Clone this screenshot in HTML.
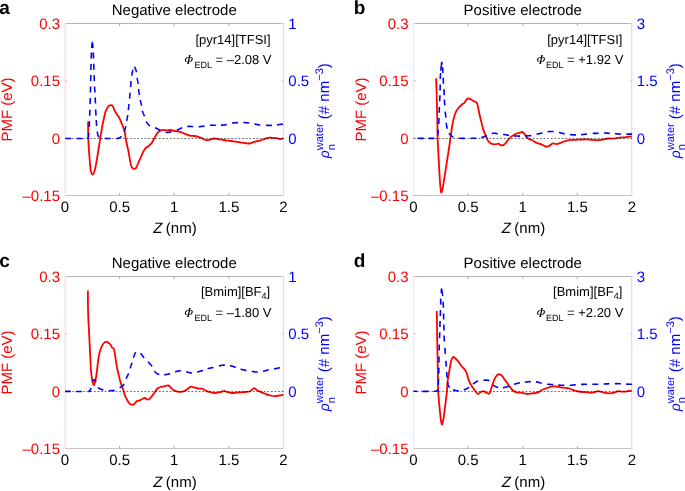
<!DOCTYPE html>
<html><head><meta charset="utf-8"><style>
html,body{margin:0;padding:0;background:#fff;width:685px;height:491px;overflow:hidden}
svg{display:block;will-change:transform}
text{font-family:"Liberation Sans",sans-serif;text-rendering:geometricPrecision}
</style></head><body>
<svg width="685" height="491" viewBox="0 0 685 491">
<rect width="685" height="491" fill="#fff"/>
<text x="174.25" y="14.60" font-size="15" text-anchor="middle" fill="#000">Negative electrode</text>
<text x="-0.70" y="13.60" font-size="19" font-weight="bold" fill="#000">a</text>
<line x1="65.00" y1="23.50" x2="283.50" y2="23.50" stroke="#b4b4b4" stroke-width="1"/>
<line x1="65.00" y1="195.50" x2="283.50" y2="195.50" stroke="#c4c4c4" stroke-width="1"/>
<text x="65.00" y="212.20" font-size="15" text-anchor="middle" fill="#000">0</text>
<line x1="119.62" y1="23.50" x2="119.62" y2="26.00" stroke="#aaa" stroke-width="1"/>
<line x1="119.62" y1="195.50" x2="119.62" y2="193.00" stroke="#aaa" stroke-width="1"/>
<text x="119.62" y="212.20" font-size="15" text-anchor="middle" fill="#000">0.5</text>
<line x1="174.25" y1="23.50" x2="174.25" y2="26.00" stroke="#aaa" stroke-width="1"/>
<line x1="174.25" y1="195.50" x2="174.25" y2="193.00" stroke="#aaa" stroke-width="1"/>
<text x="174.25" y="212.20" font-size="15" text-anchor="middle" fill="#000">1</text>
<line x1="228.88" y1="23.50" x2="228.88" y2="26.00" stroke="#aaa" stroke-width="1"/>
<line x1="228.88" y1="195.50" x2="228.88" y2="193.00" stroke="#aaa" stroke-width="1"/>
<text x="228.88" y="212.20" font-size="15" text-anchor="middle" fill="#000">1.5</text>
<text x="283.50" y="212.20" font-size="15" text-anchor="middle" fill="#000">2</text>
<line x1="65.20" y1="23.00" x2="65.20" y2="195.50" stroke="#ffd0d0" stroke-width="1"/>
<line x1="65.00" y1="23.50" x2="67.50" y2="23.50" stroke="#ffb0b0" stroke-width="1"/>
<text x="60.00" y="29.10" font-size="15" text-anchor="end" fill="#f00">0.3</text>
<line x1="65.00" y1="80.83" x2="67.50" y2="80.83" stroke="#ffb0b0" stroke-width="1"/>
<text x="60.00" y="86.43" font-size="15" text-anchor="end" fill="#f00">0.15</text>
<line x1="65.00" y1="138.17" x2="67.50" y2="138.17" stroke="#ffb0b0" stroke-width="1"/>
<text x="60.00" y="143.77" font-size="15" text-anchor="end" fill="#f00">0</text>
<line x1="65.00" y1="195.50" x2="67.50" y2="195.50" stroke="#ffb0b0" stroke-width="1"/>
<text x="60.00" y="201.10" font-size="15" text-anchor="end" fill="#f00">–0.15</text>
<line x1="283.60" y1="23.00" x2="283.60" y2="196.00" stroke="#d3d3ff" stroke-width="1"/>
<line x1="283.50" y1="23.50" x2="281.00" y2="23.50" stroke="#c8c8ff" stroke-width="1"/>
<text x="288.30" y="29.10" font-size="15" fill="#00f">1</text>
<line x1="283.50" y1="80.83" x2="281.00" y2="80.83" stroke="#c8c8ff" stroke-width="1"/>
<text x="288.30" y="86.43" font-size="15" fill="#00f">0.5</text>
<line x1="283.50" y1="138.17" x2="281.00" y2="138.17" stroke="#c8c8ff" stroke-width="1"/>
<text x="288.30" y="143.77" font-size="15" fill="#00f">0</text>
<text x="173.75" y="232.60" font-size="15" text-anchor="middle" fill="#000"><tspan font-style="italic" dx="1.2">Z</tspan><tspan dx="-0.8"> (nm)</tspan></text>
<text transform="translate(12.40 109.50) rotate(-90)" font-size="15" text-anchor="middle" fill="#f00">PMF (eV)</text>
<text transform="translate(329.40 110.80) rotate(-90)" font-size="15" text-anchor="middle" fill="#00f"><tspan font-style="italic" font-size="14">ρ</tspan><tspan font-size="11" dy="5.2">n</tspan><tspan font-size="11" dx="-6" dy="-11.2">water</tspan><tspan dy="6"> (# nm</tspan><tspan font-size="11" dy="-6">−3</tspan><tspan dy="6">)</tspan></text>
<text x="270.60" y="43.50" font-size="13" text-anchor="end" fill="#000">[pyr14][TFSI]</text>
<g fill="#000" stroke="none"><path fill-rule="evenodd" transform="translate(188.80 59.50) skewX(-14)" d="M-3.85 0 A3.85 2.65 0 1 0 3.85 0 A3.85 2.65 0 1 0 -3.85 0 Z M-2.75 0 A2.75 2.3 0 1 0 2.75 0 A2.75 2.3 0 1 0 -2.75 0 Z"/><path d="M189.10 55.20 L190.40 55.20 L188.70 63.80 L187.40 63.80 Z"/><rect x="188.80" y="55.00" width="2.0" height="0.6"/><rect x="186.90" y="63.40" width="2.2" height="0.6"/></g>
<text x="194.40" y="67.90" font-size="9" fill="#000">EDL</text>
<text x="215.50" y="64.40" font-size="13" fill="#000">= –2.08 V</text>
<path d="M88.10 121.50 C88.12 123.75 88.08 130.58 88.20 135.00 C88.32 139.42 88.55 143.83 88.80 148.00 C89.05 152.17 89.38 156.33 89.70 160.00 C90.02 163.67 90.23 167.55 90.70 170.00 C91.17 172.45 91.82 174.70 92.50 174.70 C93.18 174.70 94.08 172.45 94.80 170.00 C95.52 167.55 96.20 163.33 96.80 160.00 C97.40 156.67 97.82 153.67 98.40 150.00 C98.98 146.33 99.65 142.00 100.30 138.00 C100.95 134.00 101.73 129.08 102.30 126.00 C102.87 122.92 103.20 121.80 103.70 119.50 C104.20 117.20 104.72 114.10 105.30 112.20 C105.88 110.30 106.58 109.17 107.20 108.10 C107.82 107.03 108.37 106.30 109.00 105.80 C109.63 105.30 110.33 104.98 111.00 105.10 C111.67 105.22 112.45 105.72 113.00 106.50 C113.55 107.28 113.62 108.43 114.30 109.80 C114.98 111.17 116.32 113.45 117.10 114.70 C117.88 115.95 118.30 115.98 119.00 117.30 C119.70 118.62 120.70 121.23 121.30 122.60 C121.90 123.97 122.03 124.00 122.60 125.50 C123.17 127.00 124.18 129.40 124.70 131.60 C125.22 133.80 125.28 136.33 125.70 138.70 C126.12 141.07 126.73 143.67 127.20 145.80 C127.67 147.93 128.10 149.47 128.50 151.50 C128.90 153.53 129.23 155.92 129.60 158.00 C129.97 160.08 130.30 162.42 130.70 164.00 C131.10 165.58 131.50 166.67 132.00 167.50 C132.50 168.33 133.20 168.78 133.70 169.00 C134.20 169.22 134.57 169.05 135.00 168.80 C135.43 168.55 135.67 168.65 136.30 167.50 C136.93 166.35 137.95 163.85 138.80 161.90 C139.65 159.95 140.37 158.00 141.40 155.80 C142.43 153.60 143.82 150.32 145.00 148.70 C146.18 147.08 147.40 147.03 148.50 146.10 C149.60 145.17 150.73 144.20 151.60 143.10 C152.47 142.00 153.13 140.53 153.70 139.50 C154.27 138.47 154.42 137.95 155.00 136.90 C155.58 135.85 156.47 134.17 157.20 133.20 C157.93 132.23 158.43 131.67 159.40 131.10 C160.37 130.53 161.78 129.93 163.00 129.80 C164.22 129.67 165.42 130.27 166.70 130.30 C167.98 130.33 169.25 129.85 170.70 130.00 C172.15 130.15 173.82 130.90 175.40 131.20 C176.98 131.50 178.62 131.37 180.20 131.80 C181.78 132.23 183.32 133.15 184.90 133.80 C186.48 134.45 188.12 135.33 189.70 135.70 C191.28 136.07 192.63 135.68 194.40 136.00 C196.17 136.32 198.88 137.13 200.30 137.60 C201.72 138.07 201.85 138.37 202.90 138.80 C203.95 139.23 205.37 140.08 206.60 140.20 C207.83 140.32 209.02 139.78 210.30 139.50 C211.58 139.22 212.97 138.57 214.30 138.50 C215.63 138.43 217.02 138.90 218.30 139.10 C219.58 139.30 220.40 139.43 222.00 139.70 C223.60 139.97 225.95 140.43 227.90 140.70 C229.85 140.97 231.87 141.05 233.70 141.30 C235.53 141.55 237.23 141.95 238.90 142.20 C240.57 142.45 242.17 142.58 243.70 142.80 C245.23 143.02 246.77 143.50 248.10 143.50 C249.43 143.50 250.48 143.10 251.70 142.80 C252.92 142.50 254.05 142.07 255.40 141.70 C256.75 141.33 258.33 141.03 259.80 140.60 C261.27 140.17 262.85 139.57 264.20 139.10 C265.55 138.63 266.55 138.02 267.90 137.80 C269.25 137.58 270.83 137.73 272.30 137.80 C273.77 137.87 275.37 137.98 276.70 138.20 C278.03 138.42 279.20 139.05 280.30 139.10 C281.40 139.15 282.80 138.60 283.30 138.50" fill="none" stroke="#f00" stroke-width="1.8" stroke-linejoin="round"/>
<line x1="65.00" y1="138.50" x2="283.50" y2="138.50" stroke="#000" stroke-width="0.58" stroke-dasharray="1.75 1.864"/>
<path d="M65.33 138.50 L65.49 138.50 L66.08 138.50 L66.75 138.50 L67.50 138.51 L68.33 138.51 L69.22 138.52 L70.16 138.52 L71.15 138.53 L71.33 138.53 M76.63 138.55 L77.53 138.55 L78.59 138.55 L79.63 138.55 L80.63 138.55 L81.59 138.55 L82.50 138.55 L82.63 138.54 M88.22 138.42 L88.25 138.41 L88.27 138.40 L88.27 138.39 L88.25 138.37 L88.22 138.35 L88.18 138.32 L88.13 138.29 L88.08 138.25 L88.04 138.21 L87.99 138.16 L87.96 138.10 L87.94 138.04 L87.94 137.97 L87.96 137.89 L88.00 137.80 L88.05 137.70 L88.10 137.60 L88.15 137.49 L88.19 137.37 L88.23 137.25 L88.27 137.12 L88.31 136.98 L88.34 136.84 L88.37 136.70 L88.39 136.55 L88.42 136.39 L88.44 136.23 L88.47 136.07 L88.49 135.90 L88.51 135.72 L88.53 135.54 L88.55 135.36 L88.57 135.18 L88.59 134.99 L88.61 134.80 L88.63 134.60 L88.65 134.40 L88.68 134.20 L88.70 134.00 L88.72 133.79 L88.75 133.58 L88.77 133.37 L88.80 133.15 L88.82 132.93 L88.84 132.70 M89.25 127.12 L89.25 127.10 L89.26 126.78 L89.28 126.46 L89.29 126.14 L89.30 125.81 L89.31 125.48 L89.33 125.15 L89.34 124.81 L89.35 124.47 L89.36 124.12 L89.37 123.78 L89.39 123.43 L89.40 123.09 L89.41 122.74 L89.42 122.39 L89.43 122.05 L89.44 121.70 L89.45 121.36 L89.46 121.13 M89.66 115.80 L89.67 115.62 L89.68 115.29 L89.69 114.96 L89.71 114.63 L89.72 114.28 L89.73 113.93 L89.74 113.56 L89.76 113.19 L89.77 112.81 L89.79 112.41 L89.80 112.00 L89.81 111.58 L89.83 111.15 L89.85 110.71 L89.86 110.27 L89.88 109.81 L89.88 109.81 M90.07 104.12 L90.08 103.84 L90.10 103.30 L90.11 102.76 L90.13 102.22 L90.15 101.67 L90.17 101.12 L90.18 100.56 L90.20 100.00 L90.22 99.43 L90.23 98.86 L90.25 98.27 L90.25 98.12 M90.41 92.46 L90.42 92.05 L90.44 91.40 L90.46 90.76 L90.47 90.11 L90.49 89.47 L90.51 88.82 L90.52 88.18 L90.54 87.53 L90.55 86.90 L90.57 86.47 M90.68 81.07 L90.69 80.59 L90.70 79.96 L90.72 79.33 L90.73 78.70 L90.74 78.07 L90.75 77.44 L90.76 76.81 L90.77 76.18 L90.78 75.55 L90.79 75.07 M90.90 69.91 L90.91 69.39 L90.93 68.78 L90.95 68.16 L90.96 67.54 L90.98 66.91 L90.99 66.29 L91.01 65.66 L91.03 65.04 L91.04 64.41 L91.06 63.92 M91.21 58.55 L91.21 58.51 L91.23 57.97 L91.25 57.46 L91.27 56.95 L91.28 56.47 L91.30 56.00 L91.32 55.55 L91.33 55.12 L91.35 54.70 L91.36 54.29 L91.38 53.90 L91.40 53.52 L91.41 53.16 L91.43 52.80 L91.44 52.55 M91.69 48.11 L91.70 48.00 L91.72 47.71 L91.74 47.42 L91.77 47.12 L91.79 46.81 L91.81 46.50 L91.84 46.19 L91.86 45.88 L91.89 45.58 L91.91 45.28 L91.94 44.98 L91.96 44.69 L91.99 44.41 L92.01 44.14 L92.04 43.89 L92.07 43.65 L92.09 43.42 L92.12 43.21 L92.15 43.03 L92.17 42.86 L92.20 42.72 L92.22 42.60 L92.25 42.50 L92.27 42.44 L92.30 42.40 L92.33 42.39 L92.35 42.42 L92.38 42.46 L92.40 42.54 L92.43 42.63 L92.45 42.75 L92.48 42.89 L92.50 43.05 L92.53 43.23 L92.56 43.42 L92.58 43.63 L92.61 43.85 L92.63 44.08 L92.66 44.33 L92.68 44.58 L92.71 44.84 L92.73 45.10 L92.76 45.37 L92.78 45.64 L92.81 45.92 L92.83 46.19 L92.85 46.47 L92.88 46.73 L92.90 47.00 L92.92 47.26 L92.95 47.53 L92.97 47.79 L92.99 48.06 L92.99 48.06 M93.28 52.49 L93.30 52.82 L93.32 53.22 L93.34 53.64 L93.36 54.08 L93.38 54.53 L93.40 55.00 L93.42 55.49 L93.44 56.00 L93.46 56.54 L93.48 57.09 L93.50 57.67 L93.52 58.26 L93.53 58.49 M93.70 63.76 L93.71 64.07 L93.73 64.74 L93.75 65.41 L93.77 66.09 L93.79 66.75 L93.81 67.42 L93.83 68.08 L93.85 68.73 L93.88 69.37 L93.89 69.75 M94.09 75.13 L94.11 75.62 L94.13 76.25 L94.16 76.88 L94.18 77.50 L94.21 78.12 L94.23 78.75 L94.26 79.38 L94.28 80.00 L94.31 80.62 L94.33 81.12 M94.57 86.47 L94.59 86.90 L94.63 87.53 L94.66 88.18 L94.69 88.82 L94.73 89.47 L94.76 90.11 L94.80 90.76 L94.83 91.40 L94.87 92.05 L94.89 92.46 M95.18 97.56 L95.18 97.67 L95.21 98.27 L95.24 98.86 L95.27 99.43 L95.30 100.00 L95.33 100.56 L95.35 101.11 L95.38 101.65 L95.40 102.19 L95.42 102.71 L95.44 103.23 L95.46 103.56 M95.69 109.48 L95.69 109.62 L95.71 110.09 L95.73 110.57 L95.76 111.04 L95.78 111.52 L95.80 112.00 L95.82 112.48 L95.85 112.96 L95.87 113.44 L95.89 113.93 L95.92 114.41 L95.94 114.89 L95.96 115.37 L95.97 115.48 M96.21 120.01 L96.21 120.04 L96.23 120.48 L96.26 120.92 L96.29 121.35 L96.31 121.78 L96.34 122.19 L96.37 122.60 L96.40 123.00 L96.43 123.39 L96.46 123.78 L96.49 124.16 L96.52 124.54 L96.55 124.91 L96.58 125.28 L96.61 125.64 L96.64 125.99 M97.28 131.52 L97.28 131.53 L97.32 131.79 L97.36 132.04 L97.41 132.29 L97.45 132.53 L97.50 132.76 L97.54 132.99 L97.59 133.22 L97.63 133.44 L97.68 133.65 L97.72 133.86 L97.77 134.07 L97.82 134.27 L97.87 134.46 L97.91 134.65 L97.96 134.84 L98.01 135.02 L98.06 135.19 L98.11 135.36 L98.16 135.53 L98.20 135.69 L98.25 135.85 L98.30 136.00 L98.35 136.15 L98.40 136.29 L98.44 136.42 L98.49 136.55 L98.54 136.67 L98.59 136.79 L98.63 136.90 L98.68 137.01 L98.73 137.11 L98.78 137.21 L98.82 137.30 M104.65 138.54 L104.75 138.54 L105.44 138.54 L106.16 138.54 L106.90 138.55 L107.65 138.55 L108.41 138.55 L109.16 138.55 L109.92 138.55 L110.65 138.55 M116.20 138.49 L116.36 138.49 L116.67 138.48 L116.96 138.47 L117.20 138.45 L117.42 138.44 L117.61 138.43 L117.78 138.41 L117.92 138.40 L118.04 138.38 L118.15 138.37 L118.23 138.35 L118.31 138.33 L118.37 138.31 L118.42 138.29 L118.47 138.27 L118.51 138.24 L118.55 138.22 L118.59 138.19 L118.64 138.16 L118.69 138.14 L118.75 138.10 L118.82 138.07 L118.90 138.04 L119.00 138.00 L119.10 137.96 L119.21 137.92 L119.31 137.89 L119.40 137.85 L119.50 137.81 L119.59 137.76 L119.68 137.72 L119.77 137.68 L119.86 137.63 L119.95 137.59 L120.03 137.54 L120.12 137.49 L120.20 137.44 L120.28 137.38 L120.37 137.33 L120.45 137.27 L120.53 137.21 L120.61 137.14 L120.69 137.08 L120.77 137.01 L120.85 136.93 L120.93 136.86 L121.02 136.78 L121.10 136.70 L121.18 136.61 L121.27 136.52 L121.35 136.43 L121.44 136.33 L121.51 136.24 M124.10 131.88 L124.14 131.75 L124.20 131.60 L124.26 131.44 L124.32 131.27 L124.38 131.10 L124.44 130.91 L124.50 130.72 L124.57 130.53 L124.63 130.33 L124.70 130.12 L124.76 129.91 L124.83 129.69 L124.90 129.47 L124.96 129.25 L125.03 129.02 L125.10 128.80 L125.16 128.57 L125.23 128.34 L125.29 128.11 L125.35 127.87 L125.41 127.64 L125.48 127.41 L125.53 127.18 L125.59 126.95 L125.65 126.72 L125.70 126.50 L125.75 126.28 L125.79 126.12 M126.67 121.05 L126.70 120.90 L126.74 120.67 L126.78 120.43 L126.83 120.20 L126.87 119.97 L126.91 119.73 L126.96 119.50 L127.00 119.27 L127.04 119.03 L127.09 118.80 L127.13 118.57 L127.18 118.33 L127.22 118.10 L127.26 117.87 L127.30 117.63 L127.35 117.40 L127.39 117.17 L127.43 116.93 L127.47 116.70 L127.51 116.47 L127.55 116.23 L127.59 116.00 L127.63 115.77 L127.66 115.53 L127.70 115.30 L127.72 115.14 M128.36 110.08 L128.37 109.94 L128.40 109.70 L128.43 109.46 L128.45 109.23 L128.48 108.99 L128.51 108.76 L128.53 108.52 L128.56 108.28 L128.58 108.05 L128.61 107.81 L128.63 107.57 L128.66 107.34 L128.68 107.10 L128.71 106.86 L128.73 106.62 L128.76 106.39 L128.78 106.15 L128.80 105.91 L128.83 105.67 L128.85 105.43 L128.88 105.20 L128.90 104.96 L128.93 104.72 L128.95 104.48 L128.98 104.24 L128.99 104.12 M129.56 98.65 L129.57 98.49 L129.60 98.20 L129.63 97.90 L129.65 97.60 L129.68 97.29 L129.71 96.98 L129.74 96.66 L129.77 96.33 L129.79 96.00 L129.82 95.66 L129.85 95.32 L129.88 94.97 L129.91 94.63 L129.94 94.28 L129.97 93.92 L130.00 93.57 L130.03 93.21 L130.06 92.85 L130.07 92.67 M130.56 87.08 L130.56 87.07 L130.60 86.69 L130.63 86.32 L130.67 85.94 L130.70 85.57 L130.73 85.20 L130.77 84.83 L130.80 84.46 L130.84 84.10 L130.87 83.74 L130.90 83.38 L130.94 83.04 L130.97 82.69 L131.00 82.36 L131.04 82.03 L131.07 81.71 L131.10 81.40 L131.13 81.11 M131.76 75.55 L131.77 75.53 L131.80 75.30 L131.84 75.07 L131.87 74.84 L131.91 74.60 L131.95 74.37 L131.99 74.15 L132.03 73.92 L132.07 73.69 L132.11 73.47 L132.15 73.25 L132.19 73.03 L132.23 72.81 L132.28 72.59 L132.32 72.38 L132.36 72.17 L132.40 71.96 L132.45 71.75 L132.49 71.55 L132.54 71.35 L132.58 71.15 L132.62 70.95 L132.67 70.76 L132.71 70.57 L132.76 70.38 L132.80 70.20 L132.84 70.02 L132.89 69.83 L132.93 69.67 M134.35 66.71 L134.38 66.74 L134.43 66.80 L134.49 66.88 L134.54 66.96 L134.60 67.04 L134.66 67.14 L134.71 67.23 L134.77 67.33 L134.82 67.44 L134.88 67.54 L134.93 67.65 L134.99 67.76 L135.04 67.87 L135.09 67.98 L135.15 68.09 L135.20 68.20 L135.25 68.31 L135.30 68.42 L135.36 68.53 L135.41 68.64 L135.46 68.75 L135.52 68.87 L135.57 68.99 L135.62 69.11 L135.67 69.24 L135.73 69.37 L135.78 69.50 L135.83 69.64 L135.88 69.78 L135.93 69.93 L135.98 70.08 L136.03 70.23 L136.08 70.40 L136.13 70.56 L136.18 70.74 L136.22 70.92 L136.27 71.10 L136.31 71.29 L136.36 71.49 L136.40 71.70 L136.44 71.92 L136.48 72.15 L136.50 72.26 M137.15 77.94 L137.16 78.05 L137.20 78.30 L137.24 78.54 L137.28 78.77 L137.32 79.00 L137.36 79.23 L137.41 79.44 L137.45 79.66 L137.50 79.87 L137.54 80.07 L137.59 80.28 L137.63 80.48 L137.68 80.68 L137.72 80.88 L137.77 81.08 L137.82 81.28 L137.86 81.48 L137.90 81.68 L137.95 81.88 L137.99 82.09 L138.03 82.30 L138.07 82.51 L138.10 82.72 L138.14 82.94 L138.17 83.17 L138.20 83.40 L138.23 83.64 L138.25 83.83 M138.56 89.11 L138.58 89.26 L138.60 89.50 L138.63 89.73 L138.65 89.96 L138.68 90.18 L138.71 90.40 L138.74 90.62 L138.77 90.83 L138.80 91.05 L138.83 91.26 L138.87 91.46 L138.90 91.67 L138.93 91.88 L138.97 92.08 L139.00 92.29 L139.04 92.49 L139.08 92.69 L139.11 92.90 L139.15 93.11 L139.18 93.31 L139.22 93.52 L139.26 93.73 L139.29 93.95 L139.33 94.16 L139.36 94.38 L139.40 94.60 L139.44 94.82 L139.47 95.04 M140.25 99.93 L140.26 99.98 L140.30 100.20 L140.34 100.42 L140.39 100.63 L140.44 100.84 L140.49 101.05 L140.54 101.25 L140.59 101.46 L140.64 101.66 L140.69 101.86 L140.75 102.06 L140.80 102.26 L140.85 102.45 L140.91 102.65 L140.96 102.85 L141.01 103.04 L141.07 103.24 L141.12 103.44 L141.17 103.64 L141.22 103.84 L141.27 104.05 L141.32 104.25 L141.37 104.46 L141.41 104.67 L141.46 104.88 L141.50 105.10 L141.54 105.32 L141.58 105.54 L141.61 105.77 L141.61 105.77 M142.31 110.72 L142.37 110.93 L142.44 111.17 L142.51 111.40 L142.59 111.64 L142.68 111.88 L142.77 112.11 L142.86 112.35 L142.96 112.59 L143.05 112.82 L143.15 113.06 L143.25 113.30 L143.36 113.53 L143.46 113.77 L143.56 114.00 L143.66 114.24 L143.77 114.47 L143.87 114.70 L143.97 114.94 L144.06 115.17 L144.16 115.40 L144.25 115.62 L144.34 115.85 L144.42 116.08 L144.50 116.30 L144.50 116.30 M146.05 121.49 L146.12 121.60 L146.25 121.81 L146.38 122.02 L146.52 122.23 L146.67 122.44 L146.82 122.65 L146.98 122.86 L147.14 123.07 L147.30 123.28 L147.47 123.49 L147.65 123.70 L147.82 123.91 L148.01 124.11 L148.19 124.31 L148.38 124.50 L148.56 124.69 L148.75 124.88 L148.94 125.06 L149.14 125.23 L149.33 125.40 L149.52 125.56 L149.72 125.72 L149.91 125.86 L150.02 125.94 M155.04 127.74 L155.20 127.80 L155.41 127.89 L155.63 127.99 L155.84 128.08 L156.05 128.18 L156.26 128.28 L156.48 128.39 L156.69 128.49 L156.90 128.60 L157.11 128.70 L157.32 128.81 L157.54 128.92 L157.75 129.03 L157.96 129.14 L158.18 129.25 L158.39 129.36 L158.61 129.47 L158.83 129.58 L159.05 129.69 L159.27 129.79 L159.49 129.90 L159.72 130.00 L159.94 130.10 L160.17 130.20 L160.40 130.30 L160.46 130.32 M165.65 132.27 L165.86 132.32 L166.08 132.36 L166.30 132.40 L166.51 132.43 L166.71 132.45 L166.91 132.46 L167.09 132.47 L167.28 132.47 L167.45 132.47 L167.63 132.46 L167.80 132.44 L167.96 132.43 L168.13 132.40 L168.29 132.37 L168.46 132.34 L168.62 132.31 L168.79 132.27 L168.95 132.23 L169.13 132.19 L169.30 132.14 L169.48 132.10 L169.67 132.05 L169.86 132.00 L170.05 131.95 L170.26 131.90 L170.48 131.85 L170.70 131.80 L170.93 131.75 L171.18 131.69 L171.44 131.63 L171.54 131.61 M176.74 130.19 L176.82 130.16 L177.07 130.08 L177.30 130.00 L177.52 129.92 L177.73 129.84 L177.93 129.76 L178.13 129.67 L178.31 129.59 L178.49 129.50 L178.67 129.42 L178.83 129.33 L179.00 129.24 L179.16 129.16 L179.32 129.07 L179.47 128.98 L179.63 128.89 L179.79 128.81 L179.95 128.72 L180.11 128.64 L180.28 128.55 L180.45 128.47 L180.62 128.39 L180.80 128.31 L180.99 128.23 L181.18 128.15 L181.39 128.07 L181.60 128.00 L181.82 127.93 L182.05 127.85 L182.22 127.80 M187.19 126.59 L187.33 126.57 L187.57 126.53 L187.80 126.50 L188.03 126.47 L188.24 126.45 L188.45 126.43 L188.66 126.41 L188.86 126.40 L189.06 126.39 L189.25 126.38 L189.44 126.38 L189.62 126.38 L189.81 126.38 L189.99 126.39 L190.17 126.39 L190.36 126.40 L190.54 126.41 L190.73 126.42 L190.92 126.43 L191.11 126.44 L191.31 126.45 L191.51 126.46 L191.71 126.47 L191.92 126.48 L192.14 126.49 L192.37 126.49 L192.60 126.50 L192.84 126.51 L193.09 126.51 L193.17 126.51 M198.58 126.71 L198.71 126.71 L198.96 126.71 L199.20 126.70 L199.43 126.69 L199.65 126.68 L199.87 126.66 L200.07 126.65 L200.27 126.63 L200.47 126.61 L200.66 126.59 L200.84 126.57 L201.03 126.54 L201.21 126.52 L201.39 126.49 L201.56 126.46 L201.74 126.43 L201.92 126.40 L202.10 126.37 L202.28 126.34 L202.46 126.31 L202.65 126.28 L202.84 126.25 L203.04 126.22 L203.24 126.19 L203.45 126.16 L203.67 126.13 L203.90 126.10 L204.14 126.07 L204.38 126.04 L204.53 126.02 M209.89 125.34 L210.06 125.32 L210.30 125.30 L210.54 125.28 L210.77 125.27 L210.99 125.25 L211.22 125.24 L211.43 125.23 L211.65 125.22 L211.86 125.22 L212.07 125.21 L212.27 125.21 L212.48 125.20 L212.68 125.20 L212.88 125.20 L213.08 125.20 L213.28 125.20 L213.49 125.20 L213.69 125.20 L213.89 125.20 L214.10 125.20 L214.31 125.20 L214.52 125.20 L214.73 125.20 L214.95 125.20 L215.17 125.20 L215.40 125.20 L215.63 125.20 L215.87 125.20 L215.88 125.20 M220.86 125.22 L221.07 125.21 L221.30 125.20 L221.53 125.19 L221.75 125.17 L221.97 125.16 L222.19 125.15 L222.40 125.13 L222.61 125.11 L222.82 125.10 L223.03 125.08 L223.24 125.06 L223.44 125.04 L223.65 125.02 L223.85 124.99 L224.05 124.97 L224.26 124.94 L224.46 124.92 L224.67 124.89 L224.88 124.86 L225.09 124.83 L225.30 124.79 L225.51 124.76 L225.73 124.72 L225.95 124.68 L226.17 124.64 L226.40 124.60 L226.63 124.55 L226.81 124.52 M232.10 123.14 L232.30 123.10 L232.54 123.06 L232.77 123.02 L233.01 122.99 L233.24 122.95 L233.47 122.92 L233.70 122.90 L233.93 122.87 L234.16 122.84 L234.39 122.82 L234.62 122.80 L234.85 122.78 L235.08 122.76 L235.30 122.75 L235.53 122.73 L235.76 122.71 L235.98 122.70 L236.21 122.69 L236.43 122.67 L236.66 122.66 L236.89 122.65 L237.12 122.64 L237.34 122.62 L237.57 122.61 L237.80 122.60 L238.03 122.59 L238.07 122.59 M243.24 122.50 L243.30 122.50 L243.53 122.51 L243.76 122.52 L243.98 122.53 L244.21 122.54 L244.43 122.55 L244.66 122.57 L244.88 122.58 L245.11 122.60 L245.33 122.62 L245.56 122.64 L245.78 122.65 L246.01 122.67 L246.23 122.70 L246.46 122.72 L246.69 122.74 L246.91 122.77 L247.14 122.79 L247.38 122.82 L247.61 122.85 L247.84 122.88 L248.08 122.90 L248.32 122.94 L248.56 122.97 L248.80 123.00 L249.05 123.03 L249.21 123.06 M254.44 124.00 L254.53 124.01 L254.77 124.06 L255.00 124.10 L255.23 124.14 L255.44 124.18 L255.65 124.23 L255.86 124.27 L256.06 124.31 L256.26 124.35 L256.45 124.40 L256.64 124.44 L256.82 124.48 L257.01 124.52 L257.19 124.56 L257.38 124.60 L257.56 124.64 L257.74 124.68 L257.93 124.72 L258.12 124.75 L258.31 124.79 L258.51 124.82 L258.71 124.86 L258.91 124.89 L259.12 124.92 L259.34 124.95 L259.57 124.97 L259.80 125.00 L260.04 125.02 L260.29 125.05 L260.34 125.05 M266.00 125.29 L266.15 125.29 L266.40 125.30 L266.64 125.31 L266.87 125.32 L267.10 125.33 L267.33 125.34 L267.55 125.35 L267.76 125.36 L267.97 125.36 L268.18 125.37 L268.39 125.38 L268.59 125.39 L268.79 125.40 L268.99 125.41 L269.19 125.41 L269.39 125.42 L269.59 125.42 L269.80 125.43 L270.00 125.43 L270.20 125.43 L270.41 125.43 L270.62 125.43 L270.83 125.42 L271.05 125.42 L271.27 125.41 L271.50 125.40 L271.73 125.39 L271.96 125.37 L271.99 125.37 M277.06 124.84 L277.16 124.83 L277.40 124.80 L277.64 124.77 L277.89 124.74 L278.15 124.71 L278.42 124.68 L278.68 124.65 L278.95 124.62 L279.22 124.58 L279.50 124.55 L279.77 124.51 L280.04 124.48 L280.31 124.45 L280.57 124.41 L280.83 124.38 L281.08 124.35 L281.32 124.32 L281.56 124.29 L281.79 124.26 L282.00 124.23 L282.20 124.20 L282.39 124.18 L282.57 124.15 L282.73 124.13 L282.87 124.12 L283.00 124.10" fill="none" stroke="#00f" stroke-width="1.6"/>
<text x="522.75" y="14.60" font-size="15" text-anchor="middle" fill="#000">Positive electrode</text>
<text x="353.70" y="13.60" font-size="19" font-weight="bold" fill="#000">b</text>
<line x1="413.50" y1="23.50" x2="632.00" y2="23.50" stroke="#b4b4b4" stroke-width="1"/>
<line x1="413.50" y1="195.50" x2="632.00" y2="195.50" stroke="#c4c4c4" stroke-width="1"/>
<text x="413.50" y="212.20" font-size="15" text-anchor="middle" fill="#000">0</text>
<line x1="468.12" y1="23.50" x2="468.12" y2="26.00" stroke="#aaa" stroke-width="1"/>
<line x1="468.12" y1="195.50" x2="468.12" y2="193.00" stroke="#aaa" stroke-width="1"/>
<text x="468.12" y="212.20" font-size="15" text-anchor="middle" fill="#000">0.5</text>
<line x1="522.75" y1="23.50" x2="522.75" y2="26.00" stroke="#aaa" stroke-width="1"/>
<line x1="522.75" y1="195.50" x2="522.75" y2="193.00" stroke="#aaa" stroke-width="1"/>
<text x="522.75" y="212.20" font-size="15" text-anchor="middle" fill="#000">1</text>
<line x1="577.38" y1="23.50" x2="577.38" y2="26.00" stroke="#aaa" stroke-width="1"/>
<line x1="577.38" y1="195.50" x2="577.38" y2="193.00" stroke="#aaa" stroke-width="1"/>
<text x="577.38" y="212.20" font-size="15" text-anchor="middle" fill="#000">1.5</text>
<text x="632.00" y="212.20" font-size="15" text-anchor="middle" fill="#000">2</text>
<line x1="413.50" y1="23.00" x2="413.50" y2="195.50" stroke="#ffe4e4" stroke-width="1"/>
<line x1="413.50" y1="23.50" x2="416.00" y2="23.50" stroke="#ffb0b0" stroke-width="1"/>
<text x="408.50" y="29.10" font-size="15" text-anchor="end" fill="#f00">0.3</text>
<line x1="413.50" y1="80.83" x2="416.00" y2="80.83" stroke="#ffb0b0" stroke-width="1"/>
<text x="408.50" y="86.43" font-size="15" text-anchor="end" fill="#f00">0.15</text>
<line x1="413.50" y1="138.17" x2="416.00" y2="138.17" stroke="#ffb0b0" stroke-width="1"/>
<text x="408.50" y="143.77" font-size="15" text-anchor="end" fill="#f00">0</text>
<line x1="413.50" y1="195.50" x2="416.00" y2="195.50" stroke="#ffb0b0" stroke-width="1"/>
<text x="408.50" y="201.10" font-size="15" text-anchor="end" fill="#f00">–0.15</text>
<line x1="631.80" y1="23.00" x2="631.80" y2="196.00" stroke="#d0d0ff" stroke-width="1"/>
<line x1="632.00" y1="23.50" x2="629.50" y2="23.50" stroke="#c8c8ff" stroke-width="1"/>
<text x="636.80" y="29.10" font-size="15" fill="#00f">3</text>
<line x1="632.00" y1="80.83" x2="629.50" y2="80.83" stroke="#c8c8ff" stroke-width="1"/>
<text x="636.80" y="86.43" font-size="15" fill="#00f">1.5</text>
<line x1="632.00" y1="138.17" x2="629.50" y2="138.17" stroke="#c8c8ff" stroke-width="1"/>
<text x="636.80" y="143.77" font-size="15" fill="#00f">0</text>
<text x="522.25" y="232.60" font-size="15" text-anchor="middle" fill="#000"><tspan font-style="italic" dx="1.2">Z</tspan><tspan dx="-0.8"> (nm)</tspan></text>
<text transform="translate(366.20 109.50) rotate(-90)" font-size="15" text-anchor="middle" fill="#f00">PMF (eV)</text>
<text transform="translate(679.70 110.80) rotate(-90)" font-size="15" text-anchor="middle" fill="#00f"><tspan font-style="italic" font-size="14">ρ</tspan><tspan font-size="11" dy="5.2">n</tspan><tspan font-size="11" dx="-6" dy="-11.2">water</tspan><tspan dy="6"> (# nm</tspan><tspan font-size="11" dy="-6">−3</tspan><tspan dy="6">)</tspan></text>
<text x="622.40" y="43.50" font-size="13" text-anchor="end" fill="#000">[pyr14][TFSI]</text>
<g fill="#000" stroke="none"><path fill-rule="evenodd" transform="translate(541.00 59.50) skewX(-14)" d="M-3.85 0 A3.85 2.65 0 1 0 3.85 0 A3.85 2.65 0 1 0 -3.85 0 Z M-2.75 0 A2.75 2.3 0 1 0 2.75 0 A2.75 2.3 0 1 0 -2.75 0 Z"/><path d="M541.30 55.20 L542.60 55.20 L540.90 63.80 L539.60 63.80 Z"/><rect x="541.00" y="55.00" width="2.0" height="0.6"/><rect x="539.10" y="63.40" width="2.2" height="0.6"/></g>
<text x="545.90" y="67.90" font-size="9" fill="#000">EDL</text>
<text x="567.00" y="64.40" font-size="13" fill="#000">= +1.92 V</text>
<path d="M436.10 78.20 C436.18 80.50 436.45 86.70 436.60 92.00 C436.75 97.30 436.87 104.50 437.00 110.00 C437.13 115.50 437.28 120.00 437.40 125.00 C437.52 130.00 437.50 134.55 437.70 140.00 C437.90 145.45 438.25 151.20 438.60 157.70 C438.95 164.20 439.48 173.95 439.80 179.00 C440.12 184.05 440.27 185.75 440.50 188.00 C440.73 190.25 440.92 192.17 441.20 192.50 C441.48 192.83 441.85 191.27 442.20 190.00 C442.55 188.73 442.72 188.32 443.30 184.90 C443.88 181.48 444.90 174.62 445.70 169.50 C446.50 164.38 447.35 159.12 448.10 154.20 C448.85 149.28 449.73 143.25 450.20 140.00 C450.67 136.75 450.63 136.62 450.90 134.70 C451.17 132.78 451.50 130.45 451.80 128.50 C452.10 126.55 452.38 124.67 452.70 123.00 C453.02 121.33 453.35 119.87 453.70 118.50 C454.05 117.13 454.37 116.02 454.80 114.80 C455.23 113.58 455.73 112.30 456.30 111.20 C456.87 110.10 457.50 109.10 458.20 108.20 C458.90 107.30 459.83 106.47 460.50 105.80 C461.17 105.13 461.55 104.70 462.20 104.20 C462.85 103.70 463.67 103.60 464.40 102.80 C465.13 102.00 465.93 100.12 466.60 99.40 C467.27 98.68 467.80 98.57 468.40 98.50 C469.00 98.43 469.43 98.62 470.20 99.00 C470.97 99.38 471.90 100.18 473.00 100.80 C474.10 101.42 475.93 101.52 476.80 102.70 C477.67 103.88 477.77 106.02 478.20 107.90 C478.63 109.78 478.90 111.77 479.40 114.00 C479.90 116.23 480.58 118.78 481.20 121.30 C481.82 123.82 482.27 126.57 483.10 129.10 C483.93 131.63 485.38 134.57 486.20 136.50 C487.02 138.43 487.18 139.53 488.00 140.70 C488.82 141.87 489.92 142.88 491.10 143.50 C492.28 144.12 493.88 144.37 495.10 144.40 C496.32 144.43 497.60 143.62 498.40 143.70 C499.20 143.78 499.23 144.62 499.90 144.90 C500.57 145.18 501.55 145.57 502.40 145.40 C503.25 145.23 504.15 144.70 505.00 143.90 C505.85 143.10 506.65 141.65 507.50 140.60 C508.35 139.55 509.12 138.50 510.10 137.60 C511.08 136.70 512.25 135.88 513.40 135.20 C514.55 134.52 515.92 133.92 517.00 133.50 C518.08 133.08 519.05 132.95 519.90 132.70 C520.75 132.45 521.37 131.83 522.10 132.00 C522.83 132.17 523.57 132.85 524.30 133.70 C525.03 134.55 525.70 136.18 526.50 137.10 C527.30 138.02 528.18 138.72 529.10 139.20 C530.02 139.68 531.10 139.58 532.00 140.00 C532.90 140.42 533.57 141.17 534.50 141.70 C535.43 142.23 536.42 142.75 537.60 143.20 C538.78 143.65 540.45 143.92 541.60 144.40 C542.75 144.88 543.60 145.73 544.50 146.10 C545.40 146.47 546.15 146.68 547.00 146.60 C547.85 146.52 548.62 146.13 549.60 145.60 C550.58 145.07 551.80 143.65 552.90 143.40 C554.00 143.15 555.05 144.13 556.20 144.10 C557.35 144.07 558.53 143.63 559.80 143.20 C561.07 142.77 562.47 141.98 563.80 141.50 C565.13 141.02 566.40 140.58 567.80 140.30 C569.20 140.02 570.80 139.88 572.20 139.80 C573.60 139.72 574.85 139.85 576.20 139.80 C577.55 139.75 579.00 139.55 580.30 139.50 C581.60 139.45 582.72 139.53 584.00 139.50 C585.28 139.47 586.67 139.25 588.00 139.30 C589.33 139.35 590.12 139.67 592.00 139.80 C593.88 139.93 597.42 140.15 599.30 140.10 C601.18 140.05 601.83 139.77 603.30 139.50 C604.77 139.23 606.37 138.63 608.10 138.50 C609.83 138.37 611.82 138.83 613.70 138.70 C615.58 138.57 617.52 137.93 619.40 137.70 C621.28 137.47 623.40 137.48 625.00 137.30 C626.60 137.12 627.87 136.72 629.00 136.60 C630.13 136.48 631.33 136.60 631.80 136.60" fill="none" stroke="#f00" stroke-width="1.8" stroke-linejoin="round"/>
<line x1="413.50" y1="138.50" x2="632.00" y2="138.50" stroke="#000" stroke-width="0.58" stroke-dasharray="1.75 1.864"/>
<path d="M417.85 138.32 L418.79 138.32 L419.80 138.33 L420.85 138.34 L421.93 138.34 L423.03 138.35 L423.85 138.35 M428.44 138.36 L428.50 138.36 L429.52 138.36 L430.51 138.36 L431.44 138.35 L432.31 138.35 L433.11 138.34 L433.83 138.33 L434.44 138.32 M437.51 135.61 L437.52 135.53 L437.55 135.40 L437.58 135.26 L437.61 135.12 L437.64 134.98 L437.67 134.84 L437.70 134.70 L437.73 134.56 L437.76 134.42 L437.78 134.28 L437.81 134.14 L437.83 134.00 L437.85 133.86 L437.88 133.72 L437.90 133.57 L437.92 133.43 L437.94 133.28 L437.96 133.13 L437.97 132.97 L437.99 132.82 L438.01 132.65 L438.03 132.49 L438.05 132.31 L438.07 132.14 L438.08 131.95 L438.10 131.76 L438.12 131.57 L438.14 131.36 L438.16 131.15 L438.18 130.93 L438.20 130.70 L438.22 130.46 L438.24 130.21 L438.26 129.94 L438.29 129.67 M438.66 124.07 L438.67 124.04 L438.68 123.76 L438.70 123.50 L438.72 123.25 L438.73 123.00 L438.75 122.77 L438.76 122.54 L438.78 122.32 L438.79 122.10 L438.81 121.89 L438.82 121.68 L438.83 121.48 L438.84 121.28 L438.86 121.08 L438.87 120.88 L438.88 120.69 L438.89 120.49 L438.90 120.29 L438.91 120.10 L438.93 119.90 L438.94 119.70 L438.95 119.49 L438.96 119.28 L438.97 119.07 L438.98 118.85 L438.99 118.63 L439.00 118.40 L439.01 118.16 L439.01 118.08 M439.18 112.84 L439.18 112.77 L439.19 112.53 L439.20 112.30 L439.21 112.07 L439.22 111.85 L439.22 111.63 L439.23 111.42 L439.24 111.22 L439.25 111.01 L439.26 110.81 L439.26 110.61 L439.27 110.42 L439.28 110.22 L439.29 110.03 L439.29 109.84 L439.30 109.64 L439.31 109.45 L439.32 109.25 L439.33 109.05 L439.33 108.85 L439.34 108.64 L439.35 108.43 L439.36 108.22 L439.37 108.00 L439.38 107.77 L439.39 107.54 L439.40 107.30 L439.41 107.05 L439.42 106.84 M439.67 101.17 L439.67 101.13 L439.69 100.86 L439.70 100.60 L439.71 100.35 L439.73 100.09 L439.74 99.85 L439.75 99.60 L439.77 99.36 L439.78 99.12 L439.79 98.88 L439.81 98.64 L439.82 98.41 L439.84 98.18 L439.85 97.95 L439.86 97.72 L439.88 97.49 L439.89 97.26 L439.90 97.04 L439.91 96.81 L439.93 96.59 L439.94 96.36 L439.95 96.13 L439.96 95.91 L439.97 95.68 L439.98 95.46 L439.99 95.23 L439.99 95.18 M440.09 90.47 L440.09 90.44 L440.09 90.23 L440.09 90.01 L440.10 89.81 L440.10 89.60 L440.10 89.40 L440.11 89.21 L440.11 89.02 L440.12 88.83 L440.12 88.66 L440.13 88.48 L440.13 88.31 L440.13 88.14 L440.14 87.97 L440.14 87.81 L440.15 87.64 L440.15 87.48 L440.15 87.31 L440.16 87.14 L440.16 86.97 L440.17 86.79 L440.17 86.61 L440.17 86.43 L440.18 86.24 L440.18 86.05 L440.19 85.85 L440.19 85.64 L440.20 85.42 L440.20 85.20 L440.20 84.97 L440.21 84.72 L440.21 84.48 M440.29 79.06 L440.29 78.85 L440.30 78.60 L440.31 78.36 L440.32 78.13 L440.33 77.90 L440.33 77.68 L440.34 77.47 L440.35 77.26 L440.36 77.05 L440.37 76.85 L440.38 76.65 L440.40 76.45 L440.41 76.26 L440.42 76.06 L440.43 75.87 L440.44 75.67 L440.46 75.47 L440.47 75.27 L440.48 75.07 L440.50 74.86 L440.51 74.65 L440.53 74.43 L440.55 74.21 L440.56 73.98 L440.58 73.74 L440.60 73.50 L440.62 73.25 L440.63 73.07 M440.82 70.78 L440.83 70.66 L440.86 70.35 L440.89 70.04 L440.91 69.74 L440.94 69.44 L440.97 69.13 L441.00 68.84 L441.02 68.54 L441.05 68.26 L441.08 67.98 L441.10 67.70 L441.13 67.44 L441.15 67.18 L441.18 66.94 L441.20 66.70 L441.22 66.47 L441.25 66.24 L441.27 66.01 L441.29 65.78 L441.31 65.55 L441.33 65.32 L441.35 65.10 L441.37 64.88 L441.39 64.66 L441.42 64.45 L441.44 64.25 L441.46 64.05 L441.48 63.86 L441.50 63.68 L441.52 63.51 L441.54 63.34 L441.56 63.19 L441.58 63.05 L441.60 62.93 L441.62 62.81 L441.64 62.71 L441.66 62.62 L441.68 62.55 L441.70 62.50 L441.72 62.46 L441.74 62.44 L441.76 62.44 L441.78 62.45 L441.80 62.48 L441.82 62.52 L441.85 62.58 L441.87 62.64 L441.89 62.72 L441.91 62.80 L441.93 62.90 L441.95 63.00 L441.97 63.11 L441.99 63.23 L442.01 63.35 L442.03 63.47 L442.05 63.60 L442.07 63.73 L442.10 63.86 L442.12 63.99 L442.14 64.12 L442.16 64.25 L442.18 64.38 L442.19 64.46 M442.56 67.04 L442.58 67.17 L442.60 67.34 L442.62 67.50 L442.63 67.67 L442.65 67.83 L442.67 67.99 L442.68 68.15 L442.70 68.30 L442.71 68.45 L442.73 68.59 L442.74 68.72 L442.75 68.85 L442.76 68.98 L442.77 69.11 L442.78 69.23 L442.79 69.35 L442.79 69.47 L442.80 69.59 L442.81 69.71 L442.81 69.83 L442.82 69.96 L442.82 70.08 L442.83 70.22 L442.84 70.35 L442.84 70.49 L442.85 70.64 L442.86 70.80 L442.86 70.96 L442.87 71.13 L442.88 71.31 L442.89 71.50 L442.90 71.70 L442.91 71.91 L442.92 72.14 L442.93 72.38 L442.95 72.62 L442.96 72.88 L442.96 73.02 M443.19 77.87 L443.19 77.96 L443.20 78.20 L443.21 78.43 L443.22 78.66 L443.23 78.88 L443.24 79.10 L443.24 79.30 L443.25 79.51 L443.26 79.71 L443.26 79.91 L443.27 80.10 L443.28 80.29 L443.28 80.49 L443.29 80.67 L443.29 80.86 L443.30 81.05 L443.31 81.24 L443.31 81.44 L443.32 81.63 L443.33 81.83 L443.34 82.03 L443.35 82.23 L443.36 82.44 L443.37 82.65 L443.39 82.87 L443.40 83.10 L443.42 83.33 L443.43 83.57 L443.45 83.81 L443.45 83.86 M443.90 89.17 L443.90 89.20 L443.92 89.45 L443.93 89.70 L443.95 89.94 L443.96 90.19 L443.98 90.44 L443.99 90.69 L444.01 90.93 L444.02 91.18 L444.03 91.43 L444.04 91.67 L444.06 91.92 L444.07 92.16 L444.08 92.41 L444.09 92.65 L444.10 92.89 L444.11 93.13 L444.13 93.37 L444.14 93.61 L444.15 93.84 L444.16 94.08 L444.17 94.31 L444.18 94.54 L444.19 94.77 L444.20 95.00 L444.21 95.16 M444.37 99.53 L444.38 99.68 L444.39 99.89 L444.40 100.10 L444.41 100.31 L444.43 100.52 L444.44 100.72 L444.45 100.93 L444.47 101.13 L444.48 101.33 L444.50 101.53 L444.51 101.73 L444.53 101.92 L444.55 102.12 L444.56 102.32 L444.58 102.53 L444.60 102.73 L444.62 102.93 L444.63 103.14 L444.65 103.35 L444.67 103.57 L444.69 103.78 L444.71 104.01 L444.73 104.23 L444.74 104.47 L444.76 104.70 L444.78 104.95 L444.80 105.20 L444.82 105.46 L444.82 105.52 M445.25 111.65 L445.26 111.79 L445.28 112.05 L445.30 112.30 L445.32 112.54 L445.34 112.76 L445.36 112.98 L445.38 113.19 L445.40 113.39 L445.43 113.58 L445.45 113.76 L445.47 113.94 L445.49 114.12 L445.51 114.29 L445.53 114.46 L445.55 114.63 L445.57 114.80 L445.59 114.97 L445.61 115.14 L445.63 115.31 L445.65 115.49 L445.67 115.67 L445.70 115.85 L445.72 116.05 L445.74 116.25 L445.76 116.45 L445.78 116.67 L445.80 116.90 L445.82 117.14 L445.84 117.39 L445.86 117.62 M446.23 122.84 L446.25 123.01 L446.27 123.26 L446.30 123.50 L446.33 123.73 L446.36 123.96 L446.38 124.18 L446.41 124.40 L446.44 124.61 L446.47 124.82 L446.50 125.02 L446.53 125.23 L446.56 125.42 L446.60 125.62 L446.63 125.81 L446.66 126.00 L446.70 126.19 L446.73 126.37 L446.76 126.55 L446.80 126.73 L446.84 126.91 L446.87 127.08 L446.91 127.25 L446.95 127.43 L446.98 127.60 L447.02 127.77 L447.06 127.93 L447.10 128.10 L447.14 128.27 L447.18 128.43 L447.22 128.59 L447.26 128.74 M449.02 133.13 L449.07 133.21 L449.12 133.29 L449.18 133.37 L449.23 133.45 L449.29 133.53 L449.34 133.62 L449.40 133.70 L449.46 133.78 L449.52 133.87 L449.58 133.95 L449.64 134.03 L449.70 134.11 L449.76 134.19 L449.83 134.27 L449.89 134.35 L449.96 134.43 L450.02 134.50 L450.09 134.58 L450.16 134.66 L450.22 134.73 L450.29 134.81 L450.36 134.88 L450.43 134.95 L450.50 135.02 L450.57 135.09 L450.64 135.16 L450.71 135.23 L450.78 135.30 L450.85 135.37 L450.93 135.43 L451.00 135.50 L451.07 135.56 L451.15 135.63 L451.22 135.69 L451.29 135.75 L451.36 135.81 L451.44 135.86 L451.51 135.92 L451.59 135.97 L451.66 136.03 L451.73 136.08 L451.81 136.14 L451.89 136.19 L451.97 136.24 L452.04 136.29 L452.12 136.34 L452.20 136.39 L452.29 136.44 L452.37 136.49 L452.45 136.54 L452.54 136.59 L452.63 136.65 L452.72 136.70 L452.81 136.75 L452.90 136.80 L452.99 136.85 L453.09 136.91 L453.19 136.96 L453.29 137.02 L453.39 137.07 L453.42 137.09 M458.70 138.30 L459.17 138.31 L459.72 138.31 L460.32 138.32 L460.99 138.32 L461.70 138.32 L462.46 138.33 L463.26 138.33 L464.09 138.33 L464.70 138.33 M470.45 138.33 L471.08 138.33 L471.91 138.32 L472.70 138.32 L473.45 138.32 L474.16 138.32 L474.81 138.31 L475.41 138.31 L475.94 138.30 L476.40 138.30 L476.45 138.30 M481.34 137.69 L481.40 137.67 L481.51 137.63 L481.62 137.60 L481.72 137.56 L481.83 137.52 L481.94 137.47 L482.05 137.43 L482.16 137.39 L482.27 137.34 L482.38 137.29 L482.49 137.24 L482.61 137.19 L482.72 137.14 L482.83 137.09 L482.95 137.04 L483.06 136.99 L483.18 136.94 L483.29 136.89 L483.41 136.84 L483.53 136.79 L483.65 136.74 L483.76 136.69 L483.88 136.65 L484.00 136.60 L484.12 136.55 L484.24 136.51 L484.36 136.47 L484.48 136.42 L484.61 136.38 L484.73 136.33 L484.85 136.29 L484.98 136.25 L485.10 136.21 L485.23 136.16 L485.35 136.12 L485.48 136.07 L485.61 136.03 L485.73 135.99 L485.86 135.94 L485.99 135.90 L486.12 135.85 L486.24 135.80 L486.37 135.76 L486.50 135.71 L486.62 135.66 L486.75 135.61 L486.87 135.55 L486.94 135.53 M491.80 133.48 L491.81 133.48 L491.90 133.46 L492.00 133.44 L492.10 133.43 L492.20 133.41 L492.30 133.40 L492.41 133.39 L492.51 133.37 L492.62 133.36 L492.73 133.35 L492.84 133.34 L492.96 133.33 L493.07 133.32 L493.19 133.31 L493.30 133.30 L493.42 133.30 L493.53 133.29 L493.65 133.29 L493.77 133.28 L493.88 133.28 L494.00 133.28 L494.11 133.28 L494.23 133.28 L494.34 133.28 L494.46 133.28 L494.57 133.28 L494.68 133.29 L494.79 133.29 L494.89 133.29 L495.00 133.30 L495.10 133.31 L495.19 133.31 L495.28 133.32 L495.36 133.33 L495.44 133.35 L495.51 133.36 L495.58 133.37 L495.65 133.39 L495.72 133.40 L495.79 133.42 L495.86 133.43 L495.93 133.45 L496.01 133.47 L496.09 133.49 L496.17 133.51 L496.26 133.53 L496.36 133.55 L496.46 133.57 L496.57 133.59 L496.70 133.61 L496.83 133.63 L496.97 133.65 L497.13 133.68 L497.30 133.70 L497.48 133.72 L497.68 133.75 L497.75 133.75 M503.11 134.35 L503.26 134.37 L503.50 134.40 L503.73 134.43 L503.96 134.47 L504.18 134.50 L504.40 134.54 L504.62 134.58 L504.83 134.62 L505.04 134.66 L505.25 134.70 L505.46 134.74 L505.66 134.78 L505.87 134.82 L506.07 134.86 L506.27 134.90 L506.47 134.94 L506.68 134.98 L506.88 135.01 L507.09 135.05 L507.29 135.09 L507.50 135.13 L507.72 135.17 L507.93 135.20 L508.15 135.23 L508.37 135.27 L508.60 135.30 L508.83 135.33 L509.03 135.36 M514.04 135.87 L514.27 135.88 L514.50 135.90 L514.73 135.92 L514.95 135.93 L515.17 135.95 L515.38 135.96 L515.60 135.97 L515.81 135.99 L516.01 136.00 L516.22 136.01 L516.42 136.02 L516.63 136.03 L516.83 136.04 L517.03 136.05 L517.23 136.06 L517.44 136.07 L517.64 136.07 L517.85 136.08 L518.06 136.08 L518.27 136.09 L518.48 136.09 L518.70 136.09 L518.92 136.10 L519.14 136.10 L519.37 136.10 L519.60 136.10 L519.84 136.10 L520.03 136.10 M525.35 135.92 L525.56 135.91 L525.80 135.90 L526.03 135.89 L526.26 135.88 L526.48 135.87 L526.70 135.86 L526.92 135.85 L527.13 135.84 L527.33 135.83 L527.54 135.82 L527.74 135.81 L527.95 135.80 L528.15 135.79 L528.35 135.78 L528.55 135.76 L528.75 135.75 L528.96 135.73 L529.16 135.71 L529.37 135.70 L529.57 135.68 L529.78 135.65 L530.00 135.63 L530.22 135.60 L530.44 135.57 L530.67 135.54 L530.90 135.50 L531.14 135.46 L531.33 135.43 M536.57 134.22 L536.63 134.21 L536.87 134.15 L537.10 134.10 L537.33 134.05 L537.54 134.00 L537.76 133.96 L537.96 133.91 L538.17 133.87 L538.37 133.83 L538.56 133.79 L538.75 133.75 L538.94 133.71 L539.13 133.68 L539.31 133.64 L539.50 133.60 L539.69 133.56 L539.87 133.52 L540.06 133.49 L540.25 133.45 L540.44 133.41 L540.63 133.37 L540.83 133.33 L541.04 133.29 L541.24 133.24 L541.46 133.20 L541.67 133.15 L541.90 133.10 L542.13 133.05 L542.37 132.99 L542.43 132.98 M547.66 131.77 L547.86 131.74 L548.10 131.70 L548.33 131.67 L548.56 131.64 L548.78 131.61 L549.00 131.58 L549.21 131.56 L549.42 131.54 L549.63 131.51 L549.84 131.50 L550.04 131.48 L550.24 131.47 L550.44 131.45 L550.64 131.44 L550.84 131.44 L551.05 131.43 L551.25 131.43 L551.45 131.43 L551.66 131.43 L551.87 131.43 L552.08 131.44 L552.29 131.44 L552.51 131.45 L552.74 131.47 L552.97 131.48 L553.20 131.50 L553.44 131.52 L553.64 131.54 M558.93 132.49 L559.03 132.50 L559.27 132.55 L559.50 132.60 L559.73 132.65 L559.94 132.69 L560.15 132.74 L560.36 132.79 L560.56 132.83 L560.75 132.88 L560.94 132.93 L561.13 132.97 L561.31 133.02 L561.50 133.07 L561.68 133.12 L561.86 133.16 L562.04 133.21 L562.22 133.26 L562.40 133.30 L562.58 133.35 L562.77 133.39 L562.96 133.44 L563.15 133.48 L563.35 133.53 L563.55 133.57 L563.76 133.62 L563.98 133.66 L564.20 133.70 L564.43 133.74 L564.67 133.78 L564.79 133.80 M569.96 134.55 L570.16 134.57 L570.40 134.60 L570.63 134.62 L570.86 134.65 L571.08 134.67 L571.30 134.69 L571.52 134.71 L571.73 134.73 L571.93 134.75 L572.14 134.77 L572.34 134.78 L572.55 134.80 L572.75 134.81 L572.95 134.83 L573.15 134.84 L573.35 134.85 L573.56 134.86 L573.76 134.87 L573.97 134.87 L574.17 134.88 L574.38 134.89 L574.60 134.89 L574.82 134.90 L575.04 134.90 L575.27 134.90 L575.50 134.90 L575.74 134.90 L575.95 134.90 M581.02 134.65 L581.23 134.63 L581.47 134.62 L581.70 134.60 L581.92 134.58 L582.14 134.57 L582.34 134.55 L582.54 134.53 L582.74 134.51 L582.93 134.49 L583.11 134.47 L583.30 134.46 L583.48 134.44 L583.65 134.42 L583.83 134.40 L584.01 134.38 L584.18 134.35 L584.36 134.33 L584.54 134.31 L584.73 134.29 L584.91 134.27 L585.11 134.24 L585.30 134.22 L585.51 134.20 L585.72 134.17 L585.94 134.15 L586.16 134.12 L586.40 134.10 L586.65 134.07 L586.90 134.05 L586.99 134.04 M592.73 133.44 L592.79 133.44 L593.05 133.42 L593.30 133.40 L593.54 133.38 L593.77 133.37 L593.99 133.36 L594.20 133.35 L594.41 133.34 L594.61 133.34 L594.81 133.33 L595.00 133.33 L595.18 133.33 L595.37 133.33 L595.55 133.33 L595.73 133.33 L595.91 133.33 L596.09 133.33 L596.28 133.33 L596.46 133.33 L596.65 133.33 L596.84 133.33 L597.03 133.32 L597.23 133.32 L597.44 133.32 L597.65 133.31 L597.87 133.31 L598.10 133.30 L598.34 133.29 L598.58 133.28 L598.73 133.27 M603.93 133.01 L604.02 133.00 L604.26 133.00 L604.50 133.00 L604.73 133.00 L604.95 133.00 L605.17 133.01 L605.38 133.01 L605.58 133.02 L605.78 133.03 L605.98 133.04 L606.17 133.05 L606.36 133.06 L606.55 133.08 L606.74 133.09 L606.93 133.11 L607.11 133.12 L607.30 133.14 L607.48 133.15 L607.67 133.17 L607.86 133.19 L608.05 133.20 L608.25 133.22 L608.45 133.24 L608.65 133.25 L608.86 133.27 L609.08 133.29 L609.30 133.30 L609.53 133.31 L609.76 133.33 L609.92 133.34 M614.94 133.67 L615.06 133.68 L615.30 133.70 L615.53 133.72 L615.76 133.73 L615.99 133.75 L616.21 133.77 L616.43 133.79 L616.65 133.81 L616.86 133.83 L617.08 133.85 L617.29 133.87 L617.50 133.89 L617.71 133.91 L617.92 133.92 L618.14 133.94 L618.35 133.96 L618.56 133.98 L618.78 134.00 L618.99 134.01 L619.21 134.03 L619.44 134.04 L619.66 134.06 L619.89 134.07 L620.12 134.08 L620.36 134.09 L620.60 134.10 L620.85 134.11 L620.92 134.11 M626.44 134.10 L626.51 134.10 L626.76 134.10 L627.00 134.10 L627.24 134.10 L627.48 134.10 L627.73 134.10 L627.97 134.10 L628.22 134.10 L628.47 134.10 L628.71 134.10 L628.96 134.10 L629.20 134.10 L629.44 134.10 L629.67 134.10 L629.90 134.10 L630.12 134.10 L630.34 134.10 L630.55 134.10 L630.76 134.10 L630.95 134.10 L631.13 134.10 L631.31 134.10 L631.47 134.10 L631.62 134.10 L631.76 134.10 L631.89 134.10 L632.00 134.10" fill="none" stroke="#00f" stroke-width="1.6"/>
<text x="174.25" y="267.60" font-size="15" text-anchor="middle" fill="#000">Negative electrode</text>
<text x="-0.70" y="266.60" font-size="19" font-weight="bold" fill="#000">c</text>
<line x1="65.00" y1="276.50" x2="283.50" y2="276.50" stroke="#b4b4b4" stroke-width="1"/>
<line x1="65.00" y1="448.50" x2="283.50" y2="448.50" stroke="#c4c4c4" stroke-width="1"/>
<text x="65.00" y="465.20" font-size="15" text-anchor="middle" fill="#000">0</text>
<line x1="119.62" y1="276.50" x2="119.62" y2="279.00" stroke="#aaa" stroke-width="1"/>
<line x1="119.62" y1="448.50" x2="119.62" y2="446.00" stroke="#aaa" stroke-width="1"/>
<text x="119.62" y="465.20" font-size="15" text-anchor="middle" fill="#000">0.5</text>
<line x1="174.25" y1="276.50" x2="174.25" y2="279.00" stroke="#aaa" stroke-width="1"/>
<line x1="174.25" y1="448.50" x2="174.25" y2="446.00" stroke="#aaa" stroke-width="1"/>
<text x="174.25" y="465.20" font-size="15" text-anchor="middle" fill="#000">1</text>
<line x1="228.88" y1="276.50" x2="228.88" y2="279.00" stroke="#aaa" stroke-width="1"/>
<line x1="228.88" y1="448.50" x2="228.88" y2="446.00" stroke="#aaa" stroke-width="1"/>
<text x="228.88" y="465.20" font-size="15" text-anchor="middle" fill="#000">1.5</text>
<text x="283.50" y="465.20" font-size="15" text-anchor="middle" fill="#000">2</text>
<line x1="65.20" y1="276.00" x2="65.20" y2="448.50" stroke="#ffd0d0" stroke-width="1"/>
<line x1="65.00" y1="276.50" x2="67.50" y2="276.50" stroke="#ffb0b0" stroke-width="1"/>
<text x="60.00" y="282.10" font-size="15" text-anchor="end" fill="#f00">0.3</text>
<line x1="65.00" y1="333.83" x2="67.50" y2="333.83" stroke="#ffb0b0" stroke-width="1"/>
<text x="60.00" y="339.43" font-size="15" text-anchor="end" fill="#f00">0.15</text>
<line x1="65.00" y1="391.17" x2="67.50" y2="391.17" stroke="#ffb0b0" stroke-width="1"/>
<text x="60.00" y="396.77" font-size="15" text-anchor="end" fill="#f00">0</text>
<line x1="65.00" y1="448.50" x2="67.50" y2="448.50" stroke="#ffb0b0" stroke-width="1"/>
<text x="60.00" y="454.10" font-size="15" text-anchor="end" fill="#f00">–0.15</text>
<line x1="283.60" y1="276.00" x2="283.60" y2="449.00" stroke="#d3d3ff" stroke-width="1"/>
<line x1="283.50" y1="276.50" x2="281.00" y2="276.50" stroke="#c8c8ff" stroke-width="1"/>
<text x="288.30" y="282.10" font-size="15" fill="#00f">1</text>
<line x1="283.50" y1="333.83" x2="281.00" y2="333.83" stroke="#c8c8ff" stroke-width="1"/>
<text x="288.30" y="339.43" font-size="15" fill="#00f">0.5</text>
<line x1="283.50" y1="391.17" x2="281.00" y2="391.17" stroke="#c8c8ff" stroke-width="1"/>
<text x="288.30" y="396.77" font-size="15" fill="#00f">0</text>
<text x="173.75" y="487.40" font-size="15" text-anchor="middle" fill="#000"><tspan font-style="italic" dx="1.2">Z</tspan><tspan dx="-0.8"> (nm)</tspan></text>
<text transform="translate(12.40 362.50) rotate(-90)" font-size="15" text-anchor="middle" fill="#f00">PMF (eV)</text>
<text transform="translate(329.40 363.80) rotate(-90)" font-size="15" text-anchor="middle" fill="#00f"><tspan font-style="italic" font-size="14">ρ</tspan><tspan font-size="11" dy="5.2">n</tspan><tspan font-size="11" dx="-6" dy="-11.2">water</tspan><tspan dy="6"> (# nm</tspan><tspan font-size="11" dy="-6">−3</tspan><tspan dy="6">)</tspan></text>
<text x="270.20" y="295.70" font-size="13" text-anchor="end" fill="#000">[Bmim][BF<tspan font-size="9" dy="3">4</tspan><tspan dy="-3">]</tspan></text>
<g fill="#000" stroke="none"><path fill-rule="evenodd" transform="translate(188.80 312.50) skewX(-14)" d="M-3.85 0 A3.85 2.65 0 1 0 3.85 0 A3.85 2.65 0 1 0 -3.85 0 Z M-2.75 0 A2.75 2.3 0 1 0 2.75 0 A2.75 2.3 0 1 0 -2.75 0 Z"/><path d="M189.10 308.20 L190.40 308.20 L188.70 316.80 L187.40 316.80 Z"/><rect x="188.80" y="308.00" width="2.0" height="0.6"/><rect x="186.90" y="316.40" width="2.2" height="0.6"/></g>
<text x="194.40" y="320.90" font-size="9" fill="#000">EDL</text>
<text x="215.50" y="317.40" font-size="13" fill="#000">= –1.80 V</text>
<path d="M87.90 290.60 C87.93 294.25 87.88 305.10 88.10 312.50 C88.32 319.90 88.88 328.52 89.20 335.00 C89.52 341.48 89.72 345.57 90.00 351.40 C90.28 357.23 90.65 366.07 90.90 370.00 C91.15 373.93 91.28 373.30 91.50 375.00 C91.72 376.70 91.83 378.48 92.20 380.20 C92.57 381.92 93.15 385.30 93.70 385.30 C94.25 385.30 94.98 382.42 95.50 380.20 C96.02 377.98 96.40 374.87 96.80 372.00 C97.20 369.13 97.50 365.97 97.90 363.00 C98.30 360.03 98.62 356.85 99.20 354.20 C99.78 351.55 100.68 348.88 101.40 347.10 C102.12 345.32 102.67 344.40 103.50 343.50 C104.33 342.60 105.45 341.70 106.40 341.70 C107.35 341.70 108.52 343.03 109.20 343.50 C109.88 343.97 110.00 343.78 110.50 344.50 C111.00 345.22 111.63 347.05 112.20 347.80 C112.77 348.55 113.43 347.87 113.90 349.00 C114.37 350.13 114.53 351.80 115.00 354.60 C115.47 357.40 116.13 362.63 116.70 365.80 C117.27 368.97 117.75 370.80 118.40 373.60 C119.05 376.40 119.95 380.40 120.60 382.60 C121.25 384.80 121.82 385.43 122.30 386.80 C122.78 388.17 123.05 389.35 123.50 390.80 C123.95 392.25 124.42 394.03 125.00 395.50 C125.58 396.97 126.32 398.33 127.00 399.60 C127.68 400.87 128.22 402.22 129.10 403.10 C129.98 403.98 131.38 404.80 132.30 404.90 C133.22 405.00 133.83 404.33 134.60 403.70 C135.37 403.07 136.02 401.67 136.90 401.10 C137.78 400.53 138.97 400.65 139.90 400.30 C140.83 399.95 141.68 399.38 142.50 399.00 C143.32 398.62 143.88 397.90 144.80 398.00 C145.72 398.10 147.02 399.67 148.00 399.60 C148.98 399.53 149.82 398.48 150.70 397.60 C151.58 396.72 152.53 395.33 153.30 394.30 C154.07 393.27 154.62 392.37 155.30 391.40 C155.98 390.43 156.53 389.23 157.40 388.50 C158.27 387.77 159.37 387.35 160.50 387.00 C161.63 386.65 162.90 386.65 164.20 386.40 C165.50 386.15 167.17 385.25 168.30 385.50 C169.43 385.75 170.02 387.08 171.00 387.90 C171.98 388.72 172.90 389.73 174.20 390.40 C175.50 391.07 177.42 391.70 178.80 391.90 C180.18 392.10 181.28 391.92 182.50 391.60 C183.72 391.28 185.03 390.62 186.10 390.00 C187.17 389.38 188.05 388.45 188.90 387.90 C189.75 387.35 190.13 386.73 191.20 386.70 C192.27 386.67 194.00 387.38 195.30 387.70 C196.60 388.02 197.82 388.43 199.00 388.60 C200.18 388.77 201.28 388.37 202.40 388.70 C203.52 389.03 204.47 390.02 205.70 390.60 C206.93 391.18 208.37 391.80 209.80 392.20 C211.23 392.60 212.82 392.97 214.30 393.00 C215.78 393.03 217.42 392.63 218.70 392.40 C219.98 392.17 221.12 391.87 222.00 391.60 C222.88 391.33 223.05 390.70 224.00 390.80 C224.95 390.90 226.40 391.83 227.70 392.20 C229.00 392.57 230.43 392.93 231.80 393.00 C233.17 393.07 234.55 392.70 235.90 392.60 C237.25 392.50 238.45 392.48 239.90 392.40 C241.35 392.32 243.05 392.25 244.60 392.10 C246.15 391.95 247.98 391.88 249.20 391.50 C250.42 391.12 251.07 390.35 251.90 389.80 C252.73 389.25 253.35 388.12 254.20 388.20 C255.05 388.28 255.85 389.65 257.00 390.30 C258.15 390.95 259.65 391.48 261.10 392.10 C262.55 392.72 264.18 393.43 265.70 394.00 C267.22 394.57 268.68 395.13 270.20 395.50 C271.72 395.87 273.27 396.20 274.80 396.20 C276.33 396.20 277.98 395.77 279.40 395.50 C280.82 395.23 282.65 394.75 283.30 394.60" fill="none" stroke="#f00" stroke-width="1.8" stroke-linejoin="round"/>
<line x1="65.00" y1="391.50" x2="283.50" y2="391.50" stroke="#000" stroke-width="0.58" stroke-dasharray="1.75 1.864"/>
<path d="M65.00 391.40 L65.54 391.40 L66.18 391.40 L66.92 391.41 L67.75 391.41 L68.66 391.41 L69.63 391.42 L70.67 391.42 L70.75 391.42 M75.77 391.45 L76.40 391.45 L77.59 391.45 L78.77 391.46 L79.93 391.46 L81.07 391.46 L81.77 391.46 M88.21 391.39 L88.48 391.38 L88.88 391.37 L89.22 391.35 L89.51 391.34 L89.73 391.32 L89.90 391.31 L90.03 391.29 L90.12 391.27 L90.17 391.26 L90.18 391.23 L90.17 391.21 L90.14 391.19 L90.08 391.16 L90.02 391.13 L89.94 391.10 L89.86 391.06 L89.78 391.02 L89.70 390.97 L89.63 390.92 L89.58 390.87 L89.55 390.81 L89.53 390.75 L89.55 390.68 L89.60 390.60 L89.67 390.52 L89.73 390.43 L89.80 390.34 L89.87 390.24 L89.94 390.14 L90.01 390.04 L90.08 389.93 L90.14 389.81 L90.21 389.70 L90.28 389.58 L90.35 389.45 L90.42 389.32 L90.49 389.19 L90.55 389.06 L90.62 388.92 L90.69 388.79 L90.76 388.64 L90.82 388.50 L90.89 388.35 L90.95 388.21 L91.01 388.06 L91.05 387.98 M92.79 382.18 L92.80 382.14 L92.83 382.02 L92.86 381.90 L92.89 381.79 L92.92 381.68 L92.96 381.57 L92.98 381.47 L93.01 381.37 L93.04 381.27 L93.07 381.18 L93.10 381.09 L93.14 381.00 L93.17 380.91 L93.20 380.83 L93.23 380.75 L93.27 380.67 L93.30 380.60 L93.34 380.53 L93.37 380.46 L93.41 380.39 L93.44 380.33 L93.48 380.27 L93.51 380.22 L93.55 380.16 L93.59 380.11 L93.62 380.06 L93.66 380.02 L93.69 379.98 L93.73 379.94 L93.77 379.90 L93.81 379.87 L93.84 379.84 L93.88 379.81 L93.92 379.79 L93.96 379.77 L94.00 379.75 L94.04 379.73 L94.08 379.72 L94.12 379.71 L94.16 379.70 L94.20 379.70 L94.24 379.70 L94.28 379.70 L94.33 379.70 L94.37 379.71 L94.41 379.72 L94.46 379.73 L94.50 379.74 L94.55 379.76 L94.59 379.78 L94.64 379.80 L94.69 379.83 L94.73 379.86 L94.78 379.89 L94.82 379.92 L94.87 379.96 L94.92 380.01 L94.97 380.05 L95.01 380.11 L95.06 380.16 L95.11 380.22 L95.16 380.28 L95.20 380.35 L95.25 380.42 L95.30 380.50 L95.35 380.58 L95.39 380.67 L95.44 380.76 L95.49 380.86 L95.53 380.96 L95.58 381.07 L95.62 381.18 L95.67 381.30 L95.72 381.42 L95.76 381.54 L95.81 381.66 L95.86 381.79 L95.90 381.93 L95.91 381.94 M98.11 387.31 L98.13 387.35 L98.22 387.48 L98.30 387.60 L98.38 387.71 L98.47 387.81 L98.55 387.91 L98.64 388.00 L98.73 388.08 L98.82 388.15 L98.91 388.22 L99.00 388.29 L99.09 388.35 L99.18 388.41 L99.27 388.46 L99.36 388.51 L99.46 388.55 L99.55 388.60 L99.64 388.64 L99.74 388.68 L99.83 388.72 L99.93 388.76 L100.02 388.79 L100.12 388.83 L100.21 388.87 L100.31 388.91 L100.40 388.96 L100.50 389.00 L100.60 389.04 L100.69 389.09 L100.79 389.13 L100.88 389.17 L100.97 389.21 L101.07 389.24 L101.16 389.28 L101.26 389.31 L101.35 389.35 L101.45 389.38 L101.55 389.41 L101.64 389.44 L101.74 389.47 L101.84 389.50 L101.94 389.53 L102.04 389.56 L102.14 389.59 L102.25 389.62 L102.35 389.65 L102.46 389.68 L102.57 389.71 L102.67 389.74 L102.79 389.77 L102.90 389.80 L103.02 389.83 L103.13 389.86 L103.25 389.90 L103.35 389.92 M108.75 390.70 L108.83 390.70 L109.00 390.70 L109.18 390.70 L109.38 390.70 L109.58 390.69 L109.80 390.69 L110.03 390.68 L110.26 390.68 L110.50 390.67 L110.74 390.67 L110.99 390.66 L111.24 390.65 L111.49 390.64 L111.75 390.63 L112.01 390.62 L112.26 390.61 L112.51 390.59 L112.76 390.58 L113.00 390.56 L113.24 390.54 L113.47 390.52 L113.70 390.50 L113.92 390.48 L114.12 390.45 L114.32 390.43 L114.50 390.40 L114.67 390.37 L114.74 390.36 M119.67 387.93 L119.72 387.90 L119.84 387.80 L119.97 387.70 L120.10 387.60 L120.24 387.49 L120.38 387.38 L120.54 387.27 L120.69 387.16 L120.86 387.04 L121.02 386.92 L121.19 386.80 L121.37 386.67 L121.54 386.55 L121.72 386.42 L121.90 386.28 L122.07 386.14 L122.25 386.00 L122.43 385.86 L122.60 385.71 L122.78 385.56 L122.95 385.40 L123.11 385.24 L123.28 385.08 L123.43 384.91 L123.58 384.74 L123.73 384.57 L123.87 384.39 L124.00 384.20 L124.12 384.01 L124.14 383.99 M126.11 378.82 L126.20 378.60 L126.29 378.38 L126.39 378.16 L126.49 377.95 L126.58 377.74 L126.68 377.53 L126.78 377.32 L126.88 377.12 L126.98 376.91 L127.08 376.71 L127.18 376.50 L127.28 376.30 L127.38 376.10 L127.48 375.90 L127.58 375.70 L127.68 375.49 L127.77 375.29 L127.87 375.08 L127.96 374.88 L128.06 374.67 L128.15 374.46 L128.24 374.25 L128.33 374.04 L128.42 373.82 L128.50 373.60 L128.58 373.38 L128.59 373.36 M130.09 368.36 L130.13 368.22 L130.20 368.00 L130.27 367.78 L130.34 367.56 L130.40 367.35 L130.47 367.14 L130.54 366.93 L130.60 366.72 L130.67 366.52 L130.74 366.31 L130.80 366.11 L130.87 365.90 L130.93 365.70 L131.00 365.50 L131.07 365.30 L131.13 365.10 L131.20 364.89 L131.26 364.69 L131.33 364.48 L131.40 364.28 L131.46 364.07 L131.53 363.86 L131.60 363.65 L131.66 363.44 L131.73 363.22 L131.80 363.00 L131.87 362.78 L131.91 362.64 M133.36 357.82 L133.42 357.62 L133.50 357.40 L133.58 357.18 L133.65 356.96 L133.73 356.74 L133.81 356.52 L133.89 356.30 L133.97 356.08 L134.05 355.86 L134.13 355.64 L134.21 355.42 L134.29 355.21 L134.37 354.99 L134.45 354.78 L134.53 354.57 L134.62 354.37 L134.70 354.17 L134.79 353.97 L134.87 353.78 L134.96 353.59 L135.05 353.41 L135.13 353.23 L135.22 353.07 L135.31 352.90 L135.41 352.75 L135.50 352.60 L135.59 352.46 L135.69 352.31 L135.69 352.31 M140.48 353.23 L140.58 353.35 L140.70 353.50 L140.82 353.65 L140.95 353.80 L141.07 353.95 L141.19 354.11 L141.32 354.26 L141.44 354.42 L141.57 354.58 L141.69 354.75 L141.82 354.91 L141.95 355.08 L142.08 355.25 L142.21 355.42 L142.34 355.59 L142.47 355.76 L142.60 355.93 L142.74 356.11 L142.88 356.28 L143.02 356.46 L143.16 356.63 L143.30 356.80 L143.45 356.98 L143.60 357.15 L143.75 357.33 L143.90 357.50 L144.06 357.67 L144.22 357.85 L144.26 357.89 M148.10 361.80 L148.10 361.80 L148.27 361.98 L148.44 362.17 L148.61 362.35 L148.78 362.53 L148.95 362.71 L149.12 362.90 L149.29 363.08 L149.46 363.26 L149.63 363.45 L149.80 363.63 L149.97 363.81 L150.14 364.00 L150.30 364.19 L150.47 364.37 L150.63 364.56 L150.79 364.75 L150.95 364.94 L151.11 365.13 L151.26 365.32 L151.42 365.51 L151.57 365.71 L151.71 365.90 L151.86 366.10 L152.00 366.30 L152.02 366.33 M154.56 371.07 L154.67 371.23 L154.80 371.40 L154.93 371.56 L155.05 371.72 L155.18 371.88 L155.30 372.03 L155.42 372.17 L155.54 372.32 L155.66 372.45 L155.78 372.59 L155.90 372.72 L156.02 372.85 L156.15 372.97 L156.28 373.09 L156.41 373.20 L156.54 373.31 L156.68 373.42 L156.82 373.52 L156.97 373.62 L157.12 373.72 L157.29 373.81 L157.45 373.89 L157.63 373.98 L157.81 374.05 L158.00 374.13 L158.20 374.20 L158.41 374.27 L158.63 374.33 L158.87 374.38 L159.11 374.43 L159.28 374.46 M164.21 374.71 L164.36 374.71 L164.60 374.70 L164.84 374.69 L165.07 374.67 L165.29 374.65 L165.52 374.63 L165.73 374.61 L165.95 374.58 L166.16 374.55 L166.37 374.51 L166.57 374.48 L166.78 374.44 L166.98 374.40 L167.18 374.36 L167.38 374.31 L167.58 374.26 L167.79 374.21 L167.99 374.16 L168.19 374.11 L168.40 374.06 L168.61 374.00 L168.82 373.94 L169.03 373.88 L169.25 373.82 L169.47 373.76 L169.70 373.70 L169.93 373.63 L170.08 373.59 M174.99 371.88 L175.15 371.83 L175.38 371.76 L175.60 371.70 L175.82 371.64 L176.02 371.58 L176.22 371.52 L176.42 371.46 L176.61 371.41 L176.80 371.35 L176.98 371.30 L177.16 371.24 L177.34 371.19 L177.52 371.15 L177.69 371.10 L177.87 371.06 L178.04 371.02 L178.22 370.98 L178.40 370.94 L178.58 370.91 L178.77 370.88 L178.95 370.86 L179.15 370.84 L179.34 370.82 L179.55 370.81 L179.76 370.80 L179.97 370.80 L180.20 370.80 L180.43 370.81 L180.67 370.82 L180.85 370.84 M186.23 371.83 L186.36 371.85 L186.60 371.90 L186.83 371.95 L187.06 372.00 L187.29 372.05 L187.50 372.11 L187.72 372.17 L187.93 372.23 L188.13 372.29 L188.33 372.35 L188.53 372.41 L188.73 372.47 L188.93 372.53 L189.12 372.59 L189.32 372.64 L189.52 372.70 L189.71 372.75 L189.91 372.80 L190.11 372.84 L190.31 372.88 L190.52 372.91 L190.72 372.94 L190.94 372.97 L191.15 372.99 L191.37 373.00 L191.60 373.00 L191.83 373.00 L192.07 372.99 L192.08 372.99 M197.17 372.00 L197.37 371.95 L197.60 371.90 L197.82 371.85 L198.04 371.80 L198.26 371.74 L198.47 371.69 L198.68 371.64 L198.89 371.58 L199.09 371.53 L199.29 371.47 L199.49 371.42 L199.68 371.36 L199.88 371.31 L200.07 371.25 L200.27 371.19 L200.46 371.13 L200.66 371.07 L200.86 371.01 L201.05 370.95 L201.25 370.89 L201.45 370.83 L201.66 370.77 L201.86 370.70 L202.07 370.64 L202.28 370.57 L202.50 370.50 L202.72 370.43 L202.94 370.36 M207.60 368.75 L207.66 368.73 L207.88 368.66 L208.10 368.60 L208.32 368.54 L208.53 368.48 L208.74 368.43 L208.94 368.38 L209.14 368.33 L209.34 368.28 L209.54 368.24 L209.74 368.19 L209.93 368.15 L210.13 368.11 L210.32 368.07 L210.51 368.03 L210.71 367.99 L210.90 367.95 L211.10 367.91 L211.30 367.87 L211.50 367.83 L211.70 367.79 L211.91 367.75 L212.12 367.70 L212.33 367.66 L212.55 367.61 L212.77 367.55 L213.00 367.50 L213.23 367.44 L213.44 367.39 M218.89 365.97 L218.96 365.95 L219.20 365.90 L219.44 365.85 L219.67 365.80 L219.89 365.75 L220.12 365.70 L220.34 365.66 L220.56 365.61 L220.77 365.57 L220.99 365.52 L221.20 365.48 L221.41 365.44 L221.62 365.40 L221.83 365.36 L222.03 365.33 L222.24 365.29 L222.45 365.26 L222.66 365.23 L222.87 365.21 L223.08 365.18 L223.29 365.16 L223.51 365.14 L223.73 365.13 L223.95 365.12 L224.17 365.11 L224.40 365.10 L224.63 365.10 L224.81 365.10 M229.99 365.66 L230.20 365.70 L230.43 365.75 L230.66 365.80 L230.89 365.85 L231.11 365.91 L231.34 365.96 L231.56 366.02 L231.79 366.08 L232.01 366.15 L232.23 366.21 L232.45 366.28 L232.67 366.35 L232.89 366.42 L233.11 366.49 L233.32 366.56 L233.54 366.63 L233.76 366.71 L233.98 366.78 L234.19 366.86 L234.41 366.93 L234.63 367.00 L234.85 367.08 L235.06 367.15 L235.28 367.23 L235.50 367.30 L235.72 367.37 L235.73 367.38 M240.58 369.16 L240.70 369.20 L240.92 369.26 L241.13 369.32 L241.35 369.38 L241.56 369.44 L241.78 369.50 L241.99 369.55 L242.21 369.60 L242.42 369.66 L242.63 369.71 L242.85 369.75 L243.06 369.80 L243.28 369.85 L243.49 369.90 L243.71 369.94 L243.93 369.99 L244.15 370.03 L244.37 370.08 L244.60 370.12 L244.82 370.17 L245.05 370.21 L245.28 370.26 L245.52 370.31 L245.76 370.35 L246.00 370.40 L246.25 370.45 L246.43 370.48 M251.74 371.40 L251.93 371.43 L252.17 371.47 L252.40 371.50 L252.62 371.53 L252.84 371.57 L253.05 371.60 L253.25 371.63 L253.44 371.66 L253.63 371.70 L253.82 371.73 L254.00 371.76 L254.18 371.78 L254.35 371.81 L254.53 371.84 L254.70 371.86 L254.87 371.89 L255.05 371.91 L255.22 371.93 L255.40 371.94 L255.58 371.96 L255.77 371.97 L255.96 371.98 L256.15 371.99 L256.35 372.00 L256.56 372.00 L256.78 372.00 L257.00 372.00 L257.23 371.99 L257.47 371.99 L257.69 371.98 M263.04 371.37 L263.16 371.35 L263.40 371.30 L263.63 371.25 L263.86 371.20 L264.09 371.15 L264.30 371.09 L264.52 371.03 L264.72 370.97 L264.93 370.90 L265.13 370.84 L265.33 370.77 L265.53 370.70 L265.73 370.63 L265.92 370.56 L266.12 370.49 L266.32 370.42 L266.51 370.35 L266.71 370.29 L266.91 370.22 L267.11 370.15 L267.32 370.09 L267.52 370.02 L267.74 369.96 L267.95 369.91 L268.17 369.85 L268.40 369.80 L268.63 369.75 L268.80 369.72 M274.08 368.96 L274.17 368.94 L274.40 368.90 L274.63 368.86 L274.85 368.81 L275.08 368.77 L275.30 368.72 L275.52 368.68 L275.74 368.63 L275.96 368.58 L276.17 368.54 L276.39 368.49 L276.60 368.44 L276.81 368.39 L277.02 368.34 L277.23 368.30 L277.43 368.25 L277.63 368.20 L277.84 368.15 L278.04 368.10 L278.24 368.06 L278.43 368.01 L278.63 367.97 L278.82 367.92 L279.02 367.88 L279.21 367.84 L279.40 367.80 L279.59 367.76 L279.79 367.72 L279.95 367.69" fill="none" stroke="#00f" stroke-width="1.6"/>
<text x="522.75" y="267.60" font-size="15" text-anchor="middle" fill="#000">Positive electrode</text>
<text x="353.70" y="266.60" font-size="19" font-weight="bold" fill="#000">d</text>
<line x1="413.50" y1="276.50" x2="632.00" y2="276.50" stroke="#b4b4b4" stroke-width="1"/>
<line x1="413.50" y1="448.50" x2="632.00" y2="448.50" stroke="#c4c4c4" stroke-width="1"/>
<text x="413.50" y="465.20" font-size="15" text-anchor="middle" fill="#000">0</text>
<line x1="468.12" y1="276.50" x2="468.12" y2="279.00" stroke="#aaa" stroke-width="1"/>
<line x1="468.12" y1="448.50" x2="468.12" y2="446.00" stroke="#aaa" stroke-width="1"/>
<text x="468.12" y="465.20" font-size="15" text-anchor="middle" fill="#000">0.5</text>
<line x1="522.75" y1="276.50" x2="522.75" y2="279.00" stroke="#aaa" stroke-width="1"/>
<line x1="522.75" y1="448.50" x2="522.75" y2="446.00" stroke="#aaa" stroke-width="1"/>
<text x="522.75" y="465.20" font-size="15" text-anchor="middle" fill="#000">1</text>
<line x1="577.38" y1="276.50" x2="577.38" y2="279.00" stroke="#aaa" stroke-width="1"/>
<line x1="577.38" y1="448.50" x2="577.38" y2="446.00" stroke="#aaa" stroke-width="1"/>
<text x="577.38" y="465.20" font-size="15" text-anchor="middle" fill="#000">1.5</text>
<text x="632.00" y="465.20" font-size="15" text-anchor="middle" fill="#000">2</text>
<line x1="413.50" y1="276.00" x2="413.50" y2="448.50" stroke="#ffe4e4" stroke-width="1"/>
<line x1="413.50" y1="276.50" x2="416.00" y2="276.50" stroke="#ffb0b0" stroke-width="1"/>
<text x="408.50" y="282.10" font-size="15" text-anchor="end" fill="#f00">0.3</text>
<line x1="413.50" y1="333.83" x2="416.00" y2="333.83" stroke="#ffb0b0" stroke-width="1"/>
<text x="408.50" y="339.43" font-size="15" text-anchor="end" fill="#f00">0.15</text>
<line x1="413.50" y1="391.17" x2="416.00" y2="391.17" stroke="#ffb0b0" stroke-width="1"/>
<text x="408.50" y="396.77" font-size="15" text-anchor="end" fill="#f00">0</text>
<line x1="413.50" y1="448.50" x2="416.00" y2="448.50" stroke="#ffb0b0" stroke-width="1"/>
<text x="408.50" y="454.10" font-size="15" text-anchor="end" fill="#f00">–0.15</text>
<line x1="631.80" y1="276.00" x2="631.80" y2="449.00" stroke="#d0d0ff" stroke-width="1"/>
<line x1="632.00" y1="276.50" x2="629.50" y2="276.50" stroke="#c8c8ff" stroke-width="1"/>
<text x="636.80" y="282.10" font-size="15" fill="#00f">3</text>
<line x1="632.00" y1="333.83" x2="629.50" y2="333.83" stroke="#c8c8ff" stroke-width="1"/>
<text x="636.80" y="339.43" font-size="15" fill="#00f">1.5</text>
<line x1="632.00" y1="391.17" x2="629.50" y2="391.17" stroke="#c8c8ff" stroke-width="1"/>
<text x="636.80" y="396.77" font-size="15" fill="#00f">0</text>
<text x="522.25" y="487.40" font-size="15" text-anchor="middle" fill="#000"><tspan font-style="italic" dx="1.2">Z</tspan><tspan dx="-0.8"> (nm)</tspan></text>
<text transform="translate(366.20 362.50) rotate(-90)" font-size="15" text-anchor="middle" fill="#f00">PMF (eV)</text>
<text transform="translate(679.70 363.80) rotate(-90)" font-size="15" text-anchor="middle" fill="#00f"><tspan font-style="italic" font-size="14">ρ</tspan><tspan font-size="11" dy="5.2">n</tspan><tspan font-size="11" dx="-6" dy="-11.2">water</tspan><tspan dy="6"> (# nm</tspan><tspan font-size="11" dy="-6">−3</tspan><tspan dy="6">)</tspan></text>
<text x="622.40" y="295.70" font-size="13" text-anchor="end" fill="#000">[Bmim][BF<tspan font-size="9" dy="3">4</tspan><tspan dy="-3">]</tspan></text>
<g fill="#000" stroke="none"><path fill-rule="evenodd" transform="translate(541.00 312.50) skewX(-14)" d="M-3.85 0 A3.85 2.65 0 1 0 3.85 0 A3.85 2.65 0 1 0 -3.85 0 Z M-2.75 0 A2.75 2.3 0 1 0 2.75 0 A2.75 2.3 0 1 0 -2.75 0 Z"/><path d="M541.30 308.20 L542.60 308.20 L540.90 316.80 L539.60 316.80 Z"/><rect x="541.00" y="308.00" width="2.0" height="0.6"/><rect x="539.10" y="316.40" width="2.2" height="0.6"/></g>
<text x="545.90" y="320.90" font-size="9" fill="#000">EDL</text>
<text x="567.00" y="317.40" font-size="13" fill="#000">= +2.20 V</text>
<path d="M436.80 311.00 C436.83 313.33 436.93 320.17 437.00 325.00 C437.07 329.83 437.10 334.17 437.20 340.00 C437.30 345.83 437.47 353.33 437.60 360.00 C437.73 366.67 437.92 375.00 438.00 380.00 C438.08 385.00 437.98 387.00 438.10 390.00 C438.22 393.00 438.48 395.28 438.70 398.00 C438.92 400.72 439.15 403.63 439.40 406.30 C439.65 408.97 439.93 411.57 440.20 414.00 C440.47 416.43 440.68 419.13 441.00 420.90 C441.32 422.67 441.70 424.87 442.10 424.60 C442.50 424.33 443.03 421.23 443.40 419.30 C443.77 417.37 444.02 415.17 444.30 413.00 C444.58 410.83 444.70 409.58 445.10 406.30 C445.50 403.02 446.28 397.43 446.70 393.30 C447.12 389.17 447.15 385.30 447.60 381.50 C448.05 377.70 448.80 373.97 449.40 370.50 C450.00 367.03 450.58 362.95 451.20 360.70 C451.82 358.45 452.42 357.40 453.10 357.00 C453.78 356.60 454.45 357.57 455.30 358.30 C456.15 359.03 457.18 360.12 458.20 361.40 C459.22 362.68 460.25 364.55 461.40 366.00 C462.55 367.45 464.18 368.80 465.10 370.10 C466.02 371.40 466.30 372.12 466.90 373.80 C467.50 375.48 467.93 378.22 468.70 380.20 C469.47 382.18 470.50 384.02 471.50 385.70 C472.50 387.38 473.63 388.92 474.70 390.30 C475.77 391.68 476.92 393.70 477.90 394.00 C478.88 394.30 479.68 392.57 480.60 392.10 C481.52 391.63 482.48 391.12 483.40 391.20 C484.32 391.28 485.12 392.22 486.10 392.60 C487.08 392.98 488.38 394.35 489.30 393.50 C490.22 392.65 490.75 389.87 491.60 387.50 C492.45 385.13 493.48 381.35 494.40 379.30 C495.32 377.25 496.27 376.03 497.10 375.20 C497.93 374.37 498.55 374.17 499.40 374.30 C500.25 374.43 501.35 375.13 502.20 376.00 C503.05 376.87 503.78 378.50 504.50 379.50 C505.22 380.50 505.62 380.77 506.50 382.00 C507.38 383.23 508.72 385.48 509.80 386.90 C510.88 388.32 511.92 389.58 513.00 390.50 C514.08 391.42 514.93 392.05 516.30 392.40 C517.67 392.75 519.85 392.43 521.20 392.60 C522.55 392.77 523.32 393.17 524.40 393.40 C525.48 393.63 526.47 394.00 527.70 394.00 C528.93 394.00 530.45 393.57 531.80 393.40 C533.15 393.23 534.58 393.25 535.80 393.00 C537.02 392.75 538.02 392.45 539.10 391.90 C540.18 391.35 541.08 390.30 542.30 389.70 C543.52 389.10 545.12 388.75 546.40 388.30 C547.68 387.85 548.93 387.32 550.00 387.00 C551.07 386.68 551.73 386.48 552.80 386.40 C553.87 386.32 555.08 386.35 556.40 386.50 C557.72 386.65 559.27 387.08 560.70 387.30 C562.13 387.52 563.57 387.60 565.00 387.80 C566.43 388.00 568.12 388.20 569.30 388.50 C570.48 388.80 571.15 389.23 572.10 389.60 C573.05 389.97 573.93 390.38 575.00 390.70 C576.07 391.02 577.32 391.28 578.50 391.50 C579.68 391.72 580.78 391.88 582.10 392.00 C583.42 392.12 585.32 392.10 586.40 392.20 C587.48 392.30 587.62 392.53 588.60 392.60 C589.58 392.67 591.20 392.72 592.30 392.60 C593.40 392.48 594.23 392.15 595.20 391.90 C596.17 391.65 597.00 391.08 598.10 391.10 C599.20 391.12 600.58 391.70 601.80 392.00 C603.02 392.30 604.07 392.68 605.40 392.90 C606.73 393.12 608.33 393.35 609.80 393.30 C611.27 393.25 612.80 392.97 614.20 392.60 C615.60 392.23 616.98 391.27 618.20 391.10 C619.42 390.93 620.22 391.52 621.50 391.60 C622.78 391.68 624.68 391.72 625.90 391.60 C627.12 391.48 627.88 391.08 628.80 390.90 C629.72 390.72 630.97 390.57 631.40 390.50" fill="none" stroke="#f00" stroke-width="1.8" stroke-linejoin="round"/>
<line x1="413.50" y1="391.50" x2="632.00" y2="391.50" stroke="#000" stroke-width="0.58" stroke-dasharray="1.75 1.864"/>
<path d="M413.50 391.30 L414.01 391.30 L414.61 391.30 L415.31 391.31 L416.10 391.32 L416.95 391.33 L417.01 391.33 M422.37 391.39 L423.12 391.39 L424.24 391.40 L425.37 391.41 L426.48 391.41 L427.58 391.41 L428.37 391.41 M433.56 391.31 L434.09 391.29 L434.74 391.25 L435.30 391.20 L435.78 391.15 L436.19 391.09 L436.55 391.04 L436.86 390.98 L437.11 390.93 L437.33 390.86 L437.50 390.80 L437.63 390.73 L437.73 390.66 L437.81 390.59 L437.85 390.50 L437.88 390.42 L437.88 390.33 L437.87 390.23 L437.85 390.12 L437.82 390.01 L437.79 389.89 L437.76 389.76 L437.73 389.63 L437.72 389.48 L437.71 389.33 L437.72 389.16 L437.75 388.99 L437.75 388.98 M438.28 385.00 L438.29 384.76 L438.30 384.45 L438.31 384.12 L438.32 383.79 L438.33 383.44 L438.35 383.10 L438.36 382.74 L438.38 382.37 L438.40 382.00 L438.42 381.62 L438.44 381.22 L438.46 380.80 L438.48 380.38 L438.50 379.94 L438.52 379.49 L438.54 379.03 L438.54 379.00 M438.72 373.70 L438.72 373.62 L438.73 373.12 L438.75 372.63 L438.76 372.14 L438.77 371.65 L438.79 371.17 L438.80 370.70 L438.81 370.23 L438.82 369.77 L438.83 369.30 L438.84 368.84 L438.85 368.37 L438.86 367.91 L438.87 367.70 M438.95 362.50 L438.95 362.35 L438.96 361.88 L438.97 361.41 L438.98 360.94 L438.98 360.46 L438.99 359.98 L439.00 359.50 L439.01 359.01 L439.02 358.52 L439.02 358.03 L439.03 357.53 L439.04 357.03 L439.05 356.53 L439.05 356.50 M439.13 350.50 L439.14 350.43 L439.15 349.93 L439.16 349.43 L439.17 348.94 L439.18 348.46 L439.19 347.98 L439.20 347.50 L439.21 347.03 L439.23 346.57 L439.24 346.11 L439.26 345.67 L439.27 345.22 L439.29 344.78 L439.30 344.50 M439.55 338.25 L439.55 338.23 L439.57 337.76 L439.58 337.28 L439.60 336.80 L439.62 336.30 L439.63 335.79 L439.65 335.25 L439.67 334.71 L439.69 334.15 L439.70 333.59 L439.72 333.02 L439.74 332.44 L439.75 332.26 M439.91 327.00 L439.91 326.77 L439.93 326.26 L439.94 325.76 L439.96 325.29 L439.97 324.84 L439.99 324.40 L440.00 324.00 L440.01 323.63 L440.02 323.29 L440.03 322.98 L440.04 322.70 L440.05 322.44 L440.06 322.21 L440.06 321.99 L440.07 321.79 L440.08 321.60 L440.08 321.42 L440.09 321.24 L440.09 321.07 L440.10 321.00 M440.27 315.96 L440.29 315.46 L440.32 314.87 L440.34 314.25 L440.36 313.61 L440.39 312.97 L440.41 312.31 L440.44 311.64 L440.46 310.97 L440.49 310.31 L440.50 309.97 M440.68 304.65 L440.69 304.51 L440.70 304.10 L440.71 303.73 L440.72 303.38 L440.72 303.07 L440.72 302.78 L440.72 302.51 L440.72 302.27 L440.72 302.05 L440.72 301.84 L440.71 301.66 L440.71 301.48 L440.71 301.32 L440.70 301.16 L440.69 301.02 L440.69 300.87 L440.69 300.74 L440.68 300.60 L440.68 300.46 L440.68 300.32 L440.68 300.18 L440.68 300.02 L440.68 299.86 L440.68 299.69 L440.69 299.50 L440.70 299.30 L440.71 299.09 L440.72 298.87 L440.74 298.66 L440.74 298.66 M441.28 292.93 L441.29 292.78 L441.30 292.52 L441.32 292.25 L441.33 291.98 L441.35 291.71 L441.36 291.44 L441.38 291.18 L441.39 290.92 L441.41 290.67 L441.42 290.43 L441.44 290.20 L441.46 289.99 L441.47 289.79 L441.49 289.61 L441.51 289.45 L441.52 289.31 L441.54 289.19 L441.56 289.10 L441.58 289.04 L441.60 289.00 L441.62 289.00 L441.64 289.02 L441.67 289.07 L441.69 289.16 L441.71 289.26 L441.74 289.39 L441.76 289.53 L441.79 289.70 L441.81 289.88 L441.84 290.07 L441.86 290.27 L441.89 290.49 L441.91 290.71 L441.94 290.93 L441.97 291.16 L441.99 291.39 L442.02 291.62 L442.05 291.85 L442.07 292.06 L442.10 292.28 L442.12 292.48 L442.15 292.67 L442.17 292.84 L442.20 293.00 L442.23 293.15 L442.25 293.28 L442.28 293.42 L442.30 293.54 L442.33 293.67 L442.36 293.78 L442.38 293.90 L442.41 294.01 L442.44 294.12 L442.47 294.23 L442.49 294.34 L442.52 294.46 L442.55 294.57 L442.57 294.69 L442.60 294.81 L442.62 294.93 L442.65 295.06 L442.67 295.20 L442.69 295.34 L442.72 295.50 L442.74 295.66 L442.76 295.83 L442.77 295.91 M443.06 301.76 L443.06 301.76 L443.08 302.02 L443.09 302.26 L443.10 302.50 L443.11 302.73 L443.13 302.94 L443.14 303.15 L443.15 303.34 L443.16 303.53 L443.18 303.71 L443.19 303.89 L443.20 304.07 L443.22 304.24 L443.23 304.41 L443.24 304.58 L443.26 304.75 L443.27 304.92 L443.28 305.10 L443.29 305.28 L443.31 305.47 L443.32 305.66 L443.33 305.86 L443.34 306.07 L443.36 306.29 L443.37 306.52 L443.38 306.77 L443.39 307.03 L443.40 307.30 L443.41 307.59 L443.42 307.75 M443.54 313.42 L443.55 313.57 L443.55 313.97 L443.56 314.37 L443.57 314.78 L443.58 315.18 L443.59 315.59 L443.60 316.00 L443.61 316.41 L443.62 316.84 L443.63 317.26 L443.64 317.70 L443.66 318.14 L443.67 318.59 L443.68 319.04 L443.69 319.41 M443.83 324.46 L443.84 324.67 L443.85 325.14 L443.86 325.61 L443.87 326.08 L443.89 326.54 L443.90 327.00 L443.91 327.46 L443.92 327.91 L443.93 328.36 L443.94 328.81 L443.95 329.26 L443.96 329.71 L443.97 330.15 L443.98 330.46 M444.10 335.50 L444.10 335.58 L444.12 336.06 L444.13 336.53 L444.15 337.02 L444.18 337.51 L444.20 338.00 L444.23 338.50 L444.25 339.01 L444.28 339.52 L444.31 340.04 L444.35 340.57 L444.38 341.09 L444.41 341.50 M444.87 347.91 L444.90 348.19 L444.94 348.73 L444.98 349.28 L445.02 349.82 L445.06 350.36 L445.10 350.90 L445.14 351.44 L445.18 351.98 L445.22 352.52 L445.26 353.06 L445.31 353.60 L445.33 353.89 M445.87 360.71 L445.90 361.15 L445.94 361.67 L445.98 362.19 L446.02 362.70 L446.06 363.20 L446.10 363.70 L446.14 364.19 L446.17 364.68 L446.21 365.17 L446.24 365.65 L446.27 366.13 L446.30 366.60 L446.31 366.69 M446.64 371.71 L446.67 372.08 L446.70 372.52 L446.74 372.96 L446.78 373.39 L446.82 373.83 L446.86 374.27 L446.90 374.70 L446.94 375.14 L446.99 375.58 L447.03 376.02 L447.08 376.47 L447.12 376.92 L447.17 377.37 L447.20 377.69 M447.73 382.11 L447.79 382.49 L447.86 382.86 L447.92 383.22 L447.99 383.56 L448.06 383.89 L448.13 384.20 L448.20 384.50 L448.28 384.78 L448.35 385.04 L448.43 385.29 L448.52 385.53 L448.60 385.75 L448.68 385.97 L448.77 386.17 L448.86 386.36 L448.95 386.53 L449.04 386.70 L449.14 386.87 L449.23 387.02 L449.33 387.16 L449.43 387.30 L449.53 387.44 L449.63 387.57 L449.73 387.69 M452.95 389.78 L453.09 389.82 L453.24 389.86 L453.39 389.91 L453.54 389.95 L453.70 390.00 L453.86 390.05 L454.01 390.10 L454.17 390.15 L454.33 390.19 L454.49 390.24 L454.65 390.29 L454.82 390.34 L454.98 390.39 L455.15 390.43 L455.32 390.47 L455.49 390.52 L455.66 390.56 L455.84 390.59 L456.02 390.63 L456.20 390.66 L456.39 390.69 L456.57 390.72 L456.77 390.74 L456.96 390.76 L457.16 390.78 L457.36 390.79 L457.57 390.80 L457.78 390.80 L458.00 390.80 L458.22 390.79 L458.46 390.78 L458.70 390.77 L458.82 390.76 M463.77 389.92 L463.97 389.87 L464.20 389.80 L464.42 389.73 L464.63 389.66 L464.84 389.58 L465.05 389.51 L465.25 389.43 L465.44 389.35 L465.63 389.26 L465.82 389.18 L466.01 389.09 L466.19 389.00 L466.37 388.91 L466.55 388.81 L466.73 388.72 L466.90 388.62 L467.08 388.51 L467.26 388.41 L467.43 388.31 L467.61 388.20 L467.79 388.09 L467.96 387.97 L468.14 387.86 L468.33 387.74 L468.51 387.62 L468.70 387.50 L468.89 387.37 L469.08 387.24 L469.10 387.23 M473.10 384.05 L473.11 384.04 L473.30 383.90 L473.49 383.76 L473.68 383.63 L473.87 383.49 L474.05 383.35 L474.24 383.21 L474.42 383.08 L474.60 382.94 L474.79 382.80 L474.97 382.67 L475.15 382.54 L475.33 382.40 L475.52 382.27 L475.70 382.15 L475.89 382.02 L476.08 381.90 L476.27 381.79 L476.46 381.67 L476.66 381.56 L476.86 381.46 L477.06 381.35 L477.26 381.26 L477.47 381.17 L477.68 381.08 L477.90 381.00 L478.12 380.93 L478.18 380.91 M483.42 380.21 L483.56 380.21 L483.80 380.20 L484.04 380.19 L484.28 380.18 L484.52 380.17 L484.75 380.16 L484.99 380.15 L485.23 380.14 L485.47 380.13 L485.71 380.12 L485.95 380.11 L486.19 380.11 L486.42 380.11 L486.66 380.11 L486.89 380.12 L487.12 380.14 L487.35 380.16 L487.58 380.18 L487.80 380.22 L488.03 380.26 L488.25 380.31 L488.46 380.36 L488.68 380.43 L488.89 380.51 L489.10 380.60 L489.30 380.70 L489.33 380.72 M493.00 384.83 L493.16 384.99 L493.33 385.15 L493.50 385.30 L493.67 385.44 L493.85 385.57 L494.03 385.69 L494.20 385.81 L494.38 385.93 L494.56 386.04 L494.74 386.15 L494.92 386.25 L495.10 386.35 L495.28 386.44 L495.45 386.53 L495.63 386.61 L495.81 386.69 L495.98 386.77 L496.15 386.85 L496.33 386.92 L496.49 386.99 L496.66 387.05 L496.83 387.12 L496.99 387.18 L497.15 387.24 L497.30 387.29 L497.45 387.35 L497.60 387.40 L497.74 387.45 L497.88 387.49 L498.02 387.54 L498.15 387.57 L498.25 387.60 M502.95 387.71 L503.09 387.69 L503.24 387.67 L503.39 387.65 L503.54 387.63 L503.70 387.60 L503.86 387.57 L504.02 387.54 L504.18 387.51 L504.34 387.48 L504.51 387.45 L504.67 387.41 L504.84 387.38 L505.01 387.34 L505.18 387.30 L505.36 387.26 L505.53 387.22 L505.71 387.18 L505.89 387.13 L506.08 387.08 L506.27 387.03 L506.46 386.98 L506.65 386.93 L506.85 386.87 L507.05 386.82 L507.25 386.76 L507.46 386.70 L507.67 386.63 L507.88 386.57 L508.10 386.50 L508.32 386.43 L508.56 386.35 L508.77 386.28 M514.08 384.37 L514.30 384.30 L514.54 384.22 L514.77 384.15 L514.99 384.07 L515.22 384.00 L515.44 383.93 L515.66 383.86 L515.87 383.79 L516.09 383.72 L516.30 383.65 L516.51 383.58 L516.72 383.52 L516.93 383.46 L517.14 383.39 L517.35 383.33 L517.56 383.27 L517.77 383.21 L517.98 383.16 L518.19 383.10 L518.40 383.05 L518.62 383.00 L518.83 382.94 L519.05 382.89 L519.27 382.85 L519.50 382.80 L519.73 382.76 L519.84 382.73 M524.87 382.14 L524.97 382.12 L525.20 382.10 L525.43 382.07 L525.65 382.05 L525.88 382.02 L526.10 382.00 L526.32 381.97 L526.54 381.94 L526.76 381.92 L526.98 381.89 L527.20 381.87 L527.42 381.84 L527.63 381.82 L527.85 381.79 L528.07 381.77 L528.28 381.75 L528.50 381.73 L528.72 381.71 L528.94 381.69 L529.16 381.67 L529.38 381.66 L529.60 381.64 L529.82 381.63 L530.05 381.62 L530.27 381.61 L530.50 381.60 L530.73 381.59 L530.84 381.59 M535.91 381.76 L535.97 381.77 L536.20 381.80 L536.43 381.84 L536.65 381.88 L536.88 381.92 L537.10 381.97 L537.32 382.02 L537.53 382.08 L537.75 382.13 L537.97 382.19 L538.18 382.25 L538.40 382.32 L538.61 382.38 L538.83 382.45 L539.04 382.52 L539.26 382.58 L539.47 382.65 L539.69 382.72 L539.91 382.78 L540.13 382.85 L540.35 382.91 L540.58 382.98 L540.80 383.04 L541.03 383.09 L541.26 383.15 L541.50 383.20 L541.72 383.24 M547.24 384.15 L547.37 384.17 L547.60 384.20 L547.83 384.23 L548.05 384.25 L548.26 384.28 L548.47 384.30 L548.67 384.32 L548.87 384.34 L549.07 384.36 L549.27 384.37 L549.46 384.39 L549.65 384.40 L549.84 384.42 L550.03 384.43 L550.22 384.44 L550.41 384.46 L550.61 384.47 L550.80 384.48 L551.00 384.49 L551.20 384.51 L551.40 384.52 L551.61 384.53 L551.82 384.55 L552.04 384.57 L552.27 384.58 L552.50 384.60 L552.74 384.62 L552.99 384.64 L553.21 384.66 M558.40 385.07 L558.41 385.07 L558.66 385.08 L558.90 385.10 L559.13 385.11 L559.36 385.13 L559.58 385.14 L559.80 385.15 L560.01 385.16 L560.22 385.18 L560.42 385.19 L560.62 385.20 L560.82 385.21 L561.01 385.21 L561.21 385.22 L561.40 385.23 L561.59 385.24 L561.79 385.25 L561.98 385.25 L562.18 385.26 L562.38 385.27 L562.58 385.27 L562.79 385.28 L563.00 385.28 L563.22 385.29 L563.44 385.29 L563.67 385.30 L563.90 385.30 L564.14 385.30 L564.39 385.31 L564.40 385.31 M569.83 385.32 L570.06 385.31 L570.30 385.30 L570.53 385.29 L570.76 385.28 L570.98 385.26 L571.20 385.24 L571.41 385.23 L571.62 385.21 L571.83 385.19 L572.03 385.17 L572.23 385.14 L572.43 385.12 L572.62 385.10 L572.82 385.08 L573.01 385.05 L573.21 385.03 L573.41 385.00 L573.60 384.98 L573.80 384.95 L574.01 384.93 L574.21 384.91 L574.42 384.88 L574.63 384.86 L574.85 384.84 L575.07 384.82 L575.30 384.80 L575.53 384.78 L575.77 384.76 L575.80 384.76 M581.06 384.42 L581.16 384.41 L581.40 384.40 L581.64 384.39 L581.87 384.38 L582.10 384.37 L582.32 384.36 L582.54 384.36 L582.76 384.35 L582.98 384.35 L583.20 384.34 L583.42 384.34 L583.63 384.33 L583.84 384.33 L584.06 384.33 L584.27 384.32 L584.48 384.32 L584.70 384.32 L584.91 384.31 L585.13 384.31 L585.34 384.31 L585.56 384.31 L585.79 384.31 L586.01 384.31 L586.24 384.30 L586.47 384.30 L586.70 384.30 L586.94 384.30 L587.06 384.30 M592.24 384.30 L592.47 384.30 L592.70 384.30 L592.93 384.30 L593.15 384.30 L593.37 384.30 L593.59 384.30 L593.80 384.31 L594.01 384.31 L594.22 384.31 L594.43 384.31 L594.63 384.31 L594.83 384.32 L595.04 384.32 L595.24 384.32 L595.44 384.32 L595.64 384.32 L595.85 384.32 L596.05 384.32 L596.26 384.32 L596.47 384.32 L596.68 384.32 L596.90 384.32 L597.12 384.31 L597.34 384.31 L597.57 384.31 L597.80 384.30 L598.04 384.29 L598.24 384.29 M603.55 384.02 L603.76 384.01 L604.00 384.00 L604.23 383.99 L604.46 383.98 L604.68 383.97 L604.90 383.96 L605.12 383.95 L605.33 383.94 L605.53 383.93 L605.74 383.93 L605.94 383.92 L606.15 383.91 L606.35 383.90 L606.55 383.89 L606.75 383.89 L606.95 383.88 L607.16 383.87 L607.36 383.86 L607.57 383.86 L607.77 383.85 L607.98 383.84 L608.20 383.83 L608.42 383.82 L608.64 383.82 L608.87 383.81 L609.10 383.80 L609.34 383.79 L609.55 383.78 M614.85 383.60 L615.06 383.60 L615.30 383.60 L615.53 383.60 L615.76 383.60 L615.98 383.61 L616.20 383.61 L616.42 383.61 L616.63 383.62 L616.83 383.63 L617.04 383.63 L617.24 383.64 L617.45 383.65 L617.65 383.66 L617.85 383.67 L618.05 383.68 L618.25 383.69 L618.46 383.70 L618.66 383.71 L618.87 383.72 L619.07 383.73 L619.28 383.74 L619.50 383.76 L619.72 383.77 L619.94 383.78 L620.17 383.79 L620.40 383.80 L620.64 383.81 L620.85 383.82 M626.18 384.08 L626.36 384.09 L626.60 384.10 L626.84 384.11 L627.10 384.12 L627.35 384.13 L627.61 384.14 L627.87 384.15 L628.13 384.16 L628.40 384.17 L628.66 384.18 L628.92 384.19 L629.18 384.20 L629.44 384.21 L629.69 384.22 L629.93 384.23 L630.17 384.24 L630.41 384.24 L630.63 384.25 L630.84 384.26 L631.05 384.27 L631.24 384.27 L631.42 384.28 L631.59 384.29 L631.74 384.29 L631.88 384.30 L632.00 384.30" fill="none" stroke="#00f" stroke-width="1.6"/>
</svg>
</body></html>
